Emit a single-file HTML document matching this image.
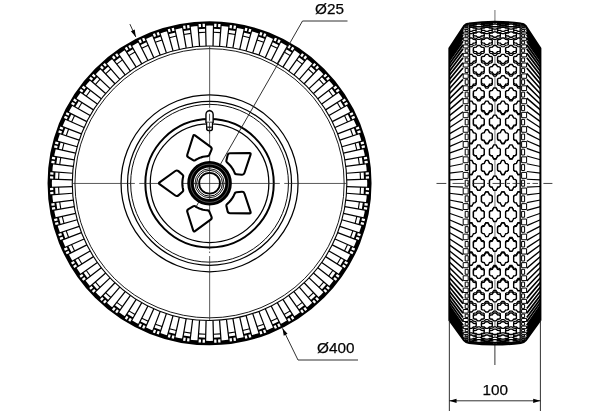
<!DOCTYPE html>
<html><head><meta charset="utf-8"><title>Wheel drawing</title>
<style>
html,body{margin:0;padding:0;background:#fff;}
body{width:600px;height:411px;overflow:hidden;}
svg{display:block;}
text{font-family:"Liberation Sans","DejaVu Sans",sans-serif;font-size:15.3px;fill:#000;stroke:#000;stroke-width:0.25px;}
</style></head><body>
<svg width="600" height="411" viewBox="0 0 600 411">
<rect width="600" height="411" fill="#fff"/>
<circle cx="209.55" cy="183.25" r="159.85" fill="none" stroke="#000" stroke-width="4.3"/>
<path d="M213.02 45.99L213.57 24.3M206.08 45.99L205.53 24.3M199.55 46.31L197.97 24.67M192.64 47L189.97 25.46M186.18 47.95L182.49 26.57M179.37 49.31L174.59 28.14M173.03 50.9L167.26 29.98M166.38 52.91L159.56 32.31M160.23 55.11L152.44 34.86M153.81 57.77L145.01 37.94M147.91 60.56L138.17 41.17M141.78 63.84L131.07 44.97M136.18 67.2L124.59 48.85M130.41 71.06L117.9 53.32M125.16 74.95L111.82 57.83M119.79 79.35L105.6 62.93M114.95 83.74L100 68.01M110.04 88.65L94.31 73.7M105.65 93.49L89.23 79.3M101.25 98.86L84.13 85.52M97.36 104.11L79.62 91.6M93.5 109.88L75.15 98.29M90.14 115.48L71.27 104.77M86.86 121.61L67.47 111.87M84.07 127.51L64.24 118.71M81.41 133.93L61.16 126.14M79.21 140.08L58.61 133.26M77.2 146.73L56.28 140.96M75.61 153.07L54.44 148.29M74.25 159.88L52.87 156.19M73.3 166.34L51.76 163.67M72.61 173.25L50.97 171.67M72.29 179.78L50.6 179.23M72.29 186.72L50.6 187.27M72.61 193.25L50.97 194.83M73.3 200.16L51.76 202.83M74.25 206.62L52.87 210.31M75.61 213.43L54.44 218.21M77.2 219.77L56.28 225.54M79.21 226.42L58.61 233.24M81.41 232.57L61.16 240.36M84.07 238.99L64.24 247.79M86.86 244.89L67.47 254.63M90.14 251.02L71.27 261.73M93.5 256.62L75.15 268.21M97.36 262.39L79.62 274.9M101.25 267.64L84.13 280.98M105.65 273.01L89.23 287.2M110.04 277.85L94.31 292.8M114.95 282.76L100 298.49M119.79 287.15L105.6 303.57M125.16 291.55L111.82 308.67M130.41 295.44L117.9 313.18M136.18 299.3L124.59 317.65M141.78 302.66L131.07 321.53M147.91 305.94L138.17 325.33M153.81 308.73L145.01 328.56M160.23 311.39L152.44 331.64M166.38 313.59L159.56 334.19M173.03 315.6L167.26 336.52M179.37 317.19L174.59 338.36M186.18 318.55L182.49 339.93M192.64 319.5L189.97 341.04M199.55 320.19L197.97 341.83M206.08 320.51L205.53 342.2M213.02 320.51L213.57 342.2M219.55 320.19L221.13 341.83M226.46 319.5L229.13 341.04M232.92 318.55L236.61 339.93M239.73 317.19L244.51 338.36M246.07 315.6L251.84 336.52M252.72 313.59L259.54 334.19M258.87 311.39L266.66 331.64M265.29 308.73L274.09 328.56M271.19 305.94L280.93 325.33M277.32 302.66L288.03 321.53M282.92 299.3L294.51 317.65M288.69 295.44L301.2 313.18M293.94 291.55L307.28 308.67M299.31 287.15L313.5 303.57M304.15 282.76L319.1 298.49M309.06 277.85L324.79 292.8M313.45 273.01L329.87 287.2M317.85 267.64L334.97 280.98M321.74 262.39L339.48 274.9M325.6 256.62L343.95 268.21M328.96 251.02L347.83 261.73M332.24 244.89L351.63 254.63M335.03 238.99L354.86 247.79M337.69 232.57L357.94 240.36M339.89 226.42L360.49 233.24M341.9 219.77L362.82 225.54M343.49 213.43L364.66 218.21M344.85 206.62L366.23 210.31M345.8 200.16L367.34 202.83M346.49 193.25L368.13 194.83M346.81 186.72L368.5 187.27M346.81 179.78L368.5 179.23M346.49 173.25L368.13 171.67M345.8 166.34L367.34 163.67M344.85 159.88L366.23 156.19M343.49 153.07L364.66 148.29M341.9 146.73L362.82 140.96M339.89 140.08L360.49 133.26M337.69 133.93L357.94 126.14M335.03 127.51L354.86 118.71M332.24 121.61L351.63 111.87M328.96 115.48L347.83 104.77M325.6 109.88L343.95 98.29M321.74 104.11L339.48 91.6M317.85 98.86L334.97 85.52M313.45 93.49L329.87 79.3M309.06 88.65L324.79 73.7M304.15 83.74L319.1 68.01M299.31 79.35L313.5 62.93M293.94 74.95L307.28 57.83M288.69 71.06L301.2 53.32M282.92 67.2L294.51 48.85M277.32 63.84L288.03 44.97M271.19 60.56L280.93 41.17M265.29 57.77L274.09 37.94M258.87 55.11L266.66 34.86M252.72 52.91L259.54 32.31M246.07 50.9L251.84 29.98M239.73 49.31L244.51 28.14M232.92 47.95L236.61 26.57M226.46 47L229.13 25.46M219.55 46.31L221.13 24.67" stroke="#000" stroke-width="1.25" fill="none"/>
<path d="M205.64 28.8L205.51 23.8L197.94 24.17L198.3 29.16ZM190.52 29.93L189.9 24.96L182.4 26.08L183.25 31ZM175.58 32.53L174.48 27.65L167.13 29.5L168.46 34.32ZM160.97 36.58L159.4 31.84L152.26 34.39L154.06 39.06ZM146.83 42.05L144.8 37.48L137.95 40.73L140.19 45.19ZM133.29 48.88L130.83 44.53L124.32 48.43L126.99 52.66ZM120.49 57L117.61 52.92L111.52 57.43L114.59 61.38ZM108.55 66.34L105.28 62.55L99.66 67.65L103.1 71.27ZM97.57 76.8L93.95 73.36L88.85 78.98L92.64 82.25ZM87.68 88.29L83.73 85.22L79.22 91.31L83.3 94.19ZM78.96 100.69L74.73 98.02L70.83 104.53L75.18 106.99ZM71.49 113.89L67.03 111.65L63.78 118.5L68.35 120.53ZM65.36 127.76L60.69 125.96L58.14 133.1L62.88 134.67ZM60.62 142.16L55.8 140.83L53.95 148.18L58.83 149.28ZM57.3 156.95L52.38 156.1L51.26 163.6L56.23 164.22ZM55.46 172L50.47 171.64L50.1 179.21L55.1 179.34ZM55.1 187.16L50.1 187.29L50.47 194.86L55.46 194.5ZM56.23 202.28L51.26 202.9L52.38 210.4L57.3 209.55ZM58.83 217.22L53.95 218.32L55.8 225.67L60.62 224.34ZM62.88 231.83L58.14 233.4L60.69 240.54L65.36 238.74ZM68.35 245.97L63.78 248L67.03 254.85L71.49 252.61ZM75.18 259.51L70.83 261.97L74.73 268.48L78.96 265.81ZM83.3 272.31L79.22 275.19L83.73 281.28L87.68 278.21ZM92.64 284.25L88.85 287.52L93.95 293.14L97.57 289.7ZM103.1 295.23L99.66 298.85L105.28 303.95L108.55 300.16ZM114.59 305.12L111.52 309.07L117.61 313.58L120.49 309.5ZM126.99 313.84L124.32 318.07L130.83 321.97L133.29 317.62ZM140.19 321.31L137.95 325.77L144.8 329.02L146.83 324.45ZM154.06 327.44L152.26 332.11L159.4 334.66L160.97 329.92ZM168.46 332.18L167.13 337L174.48 338.85L175.58 333.97ZM183.25 335.5L182.4 340.42L189.9 341.54L190.52 336.57ZM198.3 337.34L197.94 342.33L205.51 342.7L205.64 337.7ZM213.46 337.7L213.59 342.7L221.16 342.33L220.8 337.34ZM228.58 336.57L229.2 341.54L236.7 340.42L235.85 335.5ZM243.52 333.97L244.62 338.85L251.97 337L250.64 332.18ZM258.13 329.92L259.7 334.66L266.84 332.11L265.04 327.44ZM272.27 324.45L274.3 329.02L281.15 325.77L278.91 321.31ZM285.81 317.62L288.27 321.97L294.78 318.07L292.11 313.84ZM298.61 309.5L301.49 313.58L307.58 309.07L304.51 305.12ZM310.55 300.16L313.82 303.95L319.44 298.85L316 295.23ZM321.53 289.7L325.15 293.14L330.25 287.52L326.46 284.25ZM331.42 278.21L335.37 281.28L339.88 275.19L335.8 272.31ZM340.14 265.81L344.37 268.48L348.27 261.97L343.92 259.51ZM347.61 252.61L352.07 254.85L355.32 248L350.75 245.97ZM353.74 238.74L358.41 240.54L360.96 233.4L356.22 231.83ZM358.48 224.34L363.3 225.67L365.15 218.32L360.27 217.22ZM361.8 209.55L366.72 210.4L367.84 202.9L362.87 202.28ZM363.64 194.5L368.63 194.86L369 187.29L364 187.16ZM364 179.34L369 179.21L368.63 171.64L363.64 172ZM362.87 164.22L367.84 163.6L366.72 156.1L361.8 156.95ZM360.27 149.28L365.15 148.18L363.3 140.83L358.48 142.16ZM356.22 134.67L360.96 133.1L358.41 125.96L353.74 127.76ZM350.75 120.53L355.32 118.5L352.07 111.65L347.61 113.89ZM343.92 106.99L348.27 104.53L344.37 98.02L340.14 100.69ZM335.8 94.19L339.88 91.31L335.37 85.22L331.42 88.29ZM326.46 82.25L330.25 78.98L325.15 73.36L321.53 76.8ZM316 71.27L319.44 67.65L313.82 62.55L310.55 66.34ZM304.51 61.38L307.58 57.43L301.49 52.92L298.61 57ZM292.11 52.66L294.78 48.43L288.27 44.53L285.81 48.88ZM278.91 45.19L281.15 40.73L274.3 37.48L272.27 42.05ZM265.04 39.06L266.84 34.39L259.7 31.84L258.13 36.58ZM250.64 34.32L251.97 29.5L244.62 27.65L243.52 32.53ZM235.85 31L236.7 26.08L229.2 24.96L228.58 29.93ZM220.8 29.16L221.16 24.17L213.59 23.8L213.46 28.8Z" fill="#000"/>
<path d="M204.99 26.92L204.89 23.72L202.55 23.8L202.69 27ZM201.06 27.08L200.88 23.89L198.55 24.03L198.77 27.22ZM189.68 28.12L189.28 24.94L186.96 25.26L187.41 28.42ZM185.79 28.67L185.31 25.5L183 25.87L183.53 29.03ZM174.57 30.81L173.86 27.69L171.58 28.23L172.34 31.34ZM170.75 31.74L169.96 28.64L167.7 29.24L168.54 32.32ZM159.8 34.97L158.78 31.94L156.57 32.7L157.63 35.72ZM156.09 36.27L155 33.26L152.8 34.08L153.94 37.07ZM145.51 40.56L144.2 37.64L142.07 38.62L143.42 41.52ZM141.94 42.22L140.56 39.33L138.46 40.36L139.88 43.22ZM131.83 47.53L130.24 44.75L128.22 45.93L129.85 48.68ZM128.44 49.52L126.78 46.79L124.79 48.02L126.49 50.73ZM118.9 55.8L117.05 53.19L115.15 54.56L117.04 57.14ZM115.73 58.12L113.81 55.56L111.94 56.97L113.9 59.51ZM106.84 65.3L104.74 62.89L102.99 64.43L105.13 66.82ZM103.91 67.92L101.75 65.56L100.04 67.15L102.23 69.48ZM95.78 75.93L93.45 73.74L91.86 75.45L94.22 77.61ZM93.12 78.83L90.73 76.69L89.19 78.44L91.6 80.54ZM85.81 87.6L83.27 85.64L81.86 87.51L84.42 89.43ZM83.44 90.74L80.86 88.85L79.49 90.75L82.1 92.6ZM77.03 100.19L74.32 98.49L73.09 100.48L75.82 102.14ZM74.98 103.55L72.23 101.92L71.05 103.94L73.83 105.53ZM69.52 113.58L66.66 112.16L65.63 114.26L68.52 115.64ZM67.82 117.12L64.92 115.77L63.94 117.9L66.86 119.21ZM63.37 127.64L60.38 126.5L59.56 128.7L62.57 129.79ZM62.02 131.33L59 130.27L58.24 132.48L61.27 133.5ZM58.62 142.24L55.54 141.4L54.94 143.66L58.04 144.45ZM57.64 146.04L54.53 145.28L53.99 147.56L57.11 148.27ZM55.33 157.23L52.17 156.7L51.8 159.01L54.97 159.49ZM54.72 161.11L51.56 160.66L51.24 162.98L54.42 163.38ZM53.52 172.47L50.33 172.25L50.19 174.58L53.38 174.76ZM53.3 176.39L50.1 176.25L50.02 178.59L53.22 178.69ZM53.22 187.81L50.02 187.91L50.1 190.25L53.3 190.11ZM53.38 191.74L50.19 191.92L50.33 194.25L53.52 194.03ZM54.42 203.12L51.24 203.52L51.56 205.84L54.72 205.39ZM54.97 207.01L51.8 207.49L52.17 209.8L55.33 209.27ZM57.11 218.23L53.99 218.94L54.53 221.22L57.64 220.46ZM58.04 222.05L54.94 222.84L55.54 225.1L58.62 224.26ZM61.27 233L58.24 234.02L59 236.23L62.02 235.17ZM62.57 236.71L59.56 237.8L60.38 240L63.37 238.86ZM66.86 247.29L63.94 248.6L64.92 250.73L67.82 249.38ZM68.52 250.86L65.63 252.24L66.66 254.34L69.52 252.92ZM73.83 260.97L71.05 262.56L72.23 264.58L74.98 262.95ZM75.82 264.36L73.09 266.02L74.32 268.01L77.03 266.31ZM82.1 273.9L79.49 275.75L80.86 277.65L83.44 275.76ZM84.42 277.07L81.86 278.99L83.27 280.86L85.81 278.9ZM91.6 285.96L89.19 288.06L90.73 289.81L93.12 287.67ZM94.22 288.89L91.86 291.05L93.45 292.76L95.78 290.57ZM102.23 297.02L100.04 299.35L101.75 300.94L103.91 298.58ZM105.13 299.68L102.99 302.07L104.74 303.61L106.84 301.2ZM113.9 306.99L111.94 309.53L113.81 310.94L115.73 308.38ZM117.04 309.36L115.15 311.94L117.05 313.31L118.9 310.7ZM126.49 315.77L124.79 318.48L126.78 319.71L128.44 316.98ZM129.85 317.82L128.22 320.57L130.24 321.75L131.83 318.97ZM139.88 323.28L138.46 326.14L140.56 327.17L141.94 324.28ZM143.42 324.98L142.07 327.88L144.2 328.86L145.51 325.94ZM153.94 329.43L152.8 332.42L155 333.24L156.09 330.23ZM157.63 330.78L156.57 333.8L158.78 334.56L159.8 331.53ZM168.54 334.18L167.7 337.26L169.96 337.86L170.75 334.76ZM172.34 335.16L171.58 338.27L173.86 338.81L174.57 335.69ZM183.53 337.47L183 340.63L185.31 341L185.79 337.83ZM187.41 338.08L186.96 341.24L189.28 341.56L189.68 338.38ZM198.77 339.28L198.55 342.47L200.88 342.61L201.06 339.42ZM202.69 339.5L202.55 342.7L204.89 342.78L204.99 339.58ZM214.11 339.58L214.21 342.78L216.55 342.7L216.41 339.5ZM218.04 339.42L218.22 342.61L220.55 342.47L220.33 339.28ZM229.42 338.38L229.82 341.56L232.14 341.24L231.69 338.08ZM233.31 337.83L233.79 341L236.1 340.63L235.57 337.47ZM244.53 335.69L245.24 338.81L247.52 338.27L246.76 335.16ZM248.35 334.76L249.14 337.86L251.4 337.26L250.56 334.18ZM259.3 331.53L260.32 334.56L262.53 333.8L261.47 330.78ZM263.01 330.23L264.1 333.24L266.3 332.42L265.16 329.43ZM273.59 325.94L274.9 328.86L277.03 327.88L275.68 324.98ZM277.16 324.28L278.54 327.17L280.64 326.14L279.22 323.28ZM287.27 318.97L288.86 321.75L290.88 320.57L289.25 317.82ZM290.66 316.98L292.32 319.71L294.31 318.48L292.61 315.77ZM300.2 310.7L302.05 313.31L303.95 311.94L302.06 309.36ZM303.37 308.38L305.29 310.94L307.16 309.53L305.2 306.99ZM312.26 301.2L314.36 303.61L316.11 302.07L313.97 299.68ZM315.19 298.58L317.35 300.94L319.06 299.35L316.87 297.02ZM323.32 290.57L325.65 292.76L327.24 291.05L324.88 288.89ZM325.98 287.67L328.37 289.81L329.91 288.06L327.5 285.96ZM333.29 278.9L335.83 280.86L337.24 278.99L334.68 277.07ZM335.66 275.76L338.24 277.65L339.61 275.75L337 273.9ZM342.07 266.31L344.78 268.01L346.01 266.02L343.28 264.36ZM344.12 262.95L346.87 264.58L348.05 262.56L345.27 260.97ZM349.58 252.92L352.44 254.34L353.47 252.24L350.58 250.86ZM351.28 249.38L354.18 250.73L355.16 248.6L352.24 247.29ZM355.73 238.86L358.72 240L359.54 237.8L356.53 236.71ZM357.08 235.17L360.1 236.23L360.86 234.02L357.83 233ZM360.48 224.26L363.56 225.1L364.16 222.84L361.06 222.05ZM361.46 220.46L364.57 221.22L365.11 218.94L361.99 218.23ZM363.77 209.27L366.93 209.8L367.3 207.49L364.13 207.01ZM364.38 205.39L367.54 205.84L367.86 203.52L364.68 203.12ZM365.58 194.03L368.77 194.25L368.91 191.92L365.72 191.74ZM365.8 190.11L369 190.25L369.08 187.91L365.88 187.81ZM365.88 178.69L369.08 178.59L369 176.25L365.8 176.39ZM365.72 174.76L368.91 174.58L368.77 172.25L365.58 172.47ZM364.68 163.38L367.86 162.98L367.54 160.66L364.38 161.11ZM364.13 159.49L367.3 159.01L366.93 156.7L363.77 157.23ZM361.99 148.27L365.11 147.56L364.57 145.28L361.46 146.04ZM361.06 144.45L364.16 143.66L363.56 141.4L360.48 142.24ZM357.83 133.5L360.86 132.48L360.1 130.27L357.08 131.33ZM356.53 129.79L359.54 128.7L358.72 126.5L355.73 127.64ZM352.24 119.21L355.16 117.9L354.18 115.77L351.28 117.12ZM350.58 115.64L353.47 114.26L352.44 112.16L349.58 113.58ZM345.27 105.53L348.05 103.94L346.87 101.92L344.12 103.55ZM343.28 102.14L346.01 100.48L344.78 98.49L342.07 100.19ZM337 92.6L339.61 90.75L338.24 88.85L335.66 90.74ZM334.68 89.43L337.24 87.51L335.83 85.64L333.29 87.6ZM327.5 80.54L329.91 78.44L328.37 76.69L325.98 78.83ZM324.88 77.61L327.24 75.45L325.65 73.74L323.32 75.93ZM316.87 69.48L319.06 67.15L317.35 65.56L315.19 67.92ZM313.97 66.82L316.11 64.43L314.36 62.89L312.26 65.3ZM305.2 59.51L307.16 56.97L305.29 55.56L303.37 58.12ZM302.06 57.14L303.95 54.56L302.05 53.19L300.2 55.8ZM292.61 50.73L294.31 48.02L292.32 46.79L290.66 49.52ZM289.25 48.68L290.88 45.93L288.86 44.75L287.27 47.53ZM279.22 43.22L280.64 40.36L278.54 39.33L277.16 42.22ZM275.68 41.52L277.03 38.62L274.9 37.64L273.59 40.56ZM265.16 37.07L266.3 34.08L264.1 33.26L263.01 36.27ZM261.47 35.72L262.53 32.7L260.32 31.94L259.3 34.97ZM250.56 32.32L251.4 29.24L249.14 28.64L248.35 31.74ZM246.76 31.34L247.52 28.23L245.24 27.69L244.53 30.81ZM235.57 29.03L236.1 25.87L233.79 25.5L233.31 28.67ZM231.69 28.42L232.14 25.26L229.82 24.94L229.42 28.12ZM220.33 27.22L220.55 24.03L218.22 23.89L218.04 27.08ZM216.41 27L216.55 23.8L214.21 23.72L214.11 26.92Z" fill="#fff"/>
<path d="M205.73 32.3L198.56 32.65M190.95 33.4L183.85 34.45M176.35 35.94L169.39 37.69M162.07 39.91L155.31 42.33M148.25 45.25L141.76 48.32M135.02 51.92L128.86 55.62M122.51 59.86L116.74 64.14M110.83 68.99L105.51 73.81M100.11 79.21L95.29 84.53M90.44 90.44L86.16 96.21M81.92 102.56L78.22 108.72M74.62 115.46L71.55 121.95M68.63 129.01L66.21 135.77M63.99 143.09L62.24 150.05M60.75 157.55L59.7 164.65M58.95 172.26L58.6 179.43M58.6 187.07L58.95 194.24M59.7 201.85L60.75 208.95M62.24 216.45L63.99 223.41M66.21 230.73L68.63 237.49M71.55 244.55L74.62 251.04M78.22 257.78L81.92 263.94M86.16 270.29L90.44 276.06M95.29 281.97L100.11 287.29M105.51 292.69L110.83 297.51M116.74 302.36L122.51 306.64M128.86 310.88L135.02 314.58M141.76 318.18L148.25 321.25M155.31 324.17L162.07 326.59M169.39 328.81L176.35 330.56M183.85 332.05L190.95 333.1M198.56 333.85L205.73 334.2M213.37 334.2L220.54 333.85M228.15 333.1L235.25 332.05M242.75 330.56L249.71 328.81M257.03 326.59L263.79 324.17M270.85 321.25L277.34 318.18M284.08 314.58L290.24 310.88M296.59 306.64L302.36 302.36M308.27 297.51L313.59 292.69M318.99 287.29L323.81 281.97M328.66 276.06L332.94 270.29M337.18 263.94L340.88 257.78M344.48 251.04L347.55 244.55M350.47 237.49L352.89 230.73M355.11 223.41L356.86 216.45M358.35 208.95L359.4 201.85M360.15 194.24L360.5 187.07M360.5 179.43L360.15 172.26M359.4 164.65L358.35 157.55M356.86 150.05L355.11 143.09M352.89 135.77L350.47 129.01M347.55 121.95L344.48 115.46M340.88 108.72L337.18 102.56M332.94 96.21L328.66 90.44M323.81 84.53L318.99 79.21M313.59 73.81L308.27 68.99M302.36 64.14L296.59 59.86M290.24 55.62L284.08 51.92M277.34 48.32L270.85 45.25M263.79 42.33L257.03 39.91M249.71 37.69L242.75 35.94M235.25 34.45L228.15 33.4M220.54 32.65L213.37 32.3" stroke="#000" stroke-width="1.1" fill="none"/>
<circle cx="209.55" cy="183.25" r="137.3" fill="none" stroke="#000" stroke-width="1.1"/>
<circle cx="209.55" cy="183.25" r="134.6" fill="none" stroke="#000" stroke-width="0.9"/>
<circle cx="209.55" cy="183.25" r="88.5" fill="none" stroke="#000" stroke-width="1.25"/>
<circle cx="209.55" cy="183.25" r="82" fill="none" stroke="#000" stroke-width="1.25"/>
<circle cx="209.55" cy="183.25" r="78.9" fill="none" stroke="#000" stroke-width="0.95"/>
<circle cx="209.55" cy="183.25" r="64.2" fill="none" stroke="#000" stroke-width="2"/>
<circle cx="209.55" cy="183.25" r="59.3" fill="none" stroke="#000" stroke-width="1.25"/>
<line x1="72.55" y1="183.45" x2="346.55" y2="183.45" stroke="#222" stroke-width="0.75" stroke-dasharray="62.3 4.4 140.6 4.4 62.3"/>
<line x1="209.65" y1="46.25" x2="209.65" y2="320.25" stroke="#222" stroke-width="0.75" stroke-dasharray="61.5 1.8 140 2 1.5 3 80"/>
<path d="M159.55 182.32Q158.25 183.25 159.55 184.18L175.32 195.49Q176.95 196.65 178.46 195.34L182.54 191.79Q183.45 191 183.22 190.04L182.98 189.08L182.63 187.15L182.42 185.21L182.35 183.25L182.42 181.29L182.63 179.35L182.98 177.42L183.22 176.46Q183.45 175.5 182.54 174.71L178.46 171.16Q176.95 169.85 175.32 171.01Z" fill="#fff" stroke="#000" stroke-width="2.1" stroke-linejoin="round"/>
<path d="M194.99 135.41Q193.7 134.46 193.21 135.99L187.34 154.48Q186.73 156.39 188.45 157.42L193.09 160.2Q194.11 160.82 194.96 160.3L195.8 159.78L197.52 158.86L199.31 158.05L201.14 157.38L203.03 156.84L204.94 156.44L206.88 156.18L207.87 156.11Q208.86 156.03 209.32 154.93L211.44 149.95Q212.22 148.1 210.61 146.92Z" fill="#fff" stroke="#000" stroke-width="2.1" stroke-linejoin="round"/>
<path d="M250.55 154.62Q251.05 153.1 249.45 153.11L230.05 153.23Q228.05 153.25 227.6 155.2L226.38 160.47Q226.11 161.64 226.86 162.28L227.62 162.92L229.03 164.27L230.35 165.72L231.56 167.26L232.65 168.89L233.62 170.59L234.47 172.35L234.85 173.26Q235.22 174.18 236.42 174.28L241.81 174.75Q243.8 174.93 244.43 173.03Z" fill="#fff" stroke="#000" stroke-width="2.1" stroke-linejoin="round"/>
<path d="M249.45 213.39Q251.05 213.4 250.55 211.88L244.43 193.47Q243.8 191.57 241.81 191.75L236.42 192.22Q235.22 192.32 234.85 193.24L234.47 194.15L233.62 195.91L232.65 197.61L231.56 199.24L230.35 200.78L229.03 202.23L227.62 203.58L226.86 204.22Q226.11 204.86 226.38 206.03L227.6 211.3Q228.05 213.25 230.05 213.27Z" fill="#fff" stroke="#000" stroke-width="2.1" stroke-linejoin="round"/>
<path d="M193.21 230.51Q193.7 232.04 194.99 231.09L210.61 219.58Q212.22 218.4 211.44 216.55L209.32 211.57Q208.86 210.47 207.87 210.39L206.88 210.32L204.94 210.06L203.03 209.66L201.14 209.12L199.31 208.45L197.52 207.64L195.8 206.72L194.96 206.2Q194.11 205.68 193.09 206.3L188.45 209.08Q186.73 210.11 187.34 212.02Z" fill="#fff" stroke="#000" stroke-width="2.1" stroke-linejoin="round"/>
<circle cx="209.55" cy="183.25" r="19.05" fill="none" stroke="#000" stroke-width="6.5"/>
<circle cx="209.55" cy="183.25" r="19.1" fill="none" stroke="#000" stroke-width="0.5" style="stroke:#aaa"/>
<circle cx="209.55" cy="183.25" r="14.5" fill="none" stroke="#000" stroke-width="0.9"/>
<circle cx="209.55" cy="183.25" r="12.9" fill="none" stroke="#000" stroke-width="1"/>
<circle cx="209.55" cy="183.25" r="10.4" fill="none" stroke="#000" stroke-width="1.85"/>
<path d="M205.95 122.4V114.4a3.6 3.6 0 0 1 7.2 0V122.4Z" fill="#fff" stroke="#000" stroke-width="1.4"/>
<path d="M206.65 122.4V129q0 1.7 2.9 1.7q2.9 0 2.9-1.7V122.4" fill="#fff" stroke="#000" stroke-width="1.2"/>
<line x1="206.65" y1="127" x2="212.45" y2="127" stroke="#000" stroke-width="0.9"/>
<ellipse cx="209.55" cy="129" rx="2.9" ry="1.6" fill="none" stroke="#000" stroke-width="0.7"/>
<line x1="209.55" y1="113.8" x2="209.55" y2="120.8" stroke="#222" stroke-width="0.8"/>
<line x1="209.55" y1="122.6" x2="209.55" y2="133.5" stroke="#222" stroke-width="0.8"/>
<line x1="302.5" y1="21" x2="347.5" y2="21" stroke="#1a1a1a" stroke-width="0.9"/>
<line x1="302.5" y1="21" x2="220.24" y2="164.59" stroke="#1a1a1a" stroke-width="0.9"/>
<line x1="198.86" y1="201.91" x2="195.88" y2="207.11" stroke="#1a1a1a" stroke-width="0.9"/>
<line x1="298" y1="360" x2="358" y2="360" stroke="#1a1a1a" stroke-width="0.9"/>
<line x1="298" y1="360" x2="282.47" y2="328.24" stroke="#1a1a1a" stroke-width="0.9"/>
<path d="M282.47 328.24L283.75 335.63L287.52 333.79Z" fill="#000"/>
<line x1="129.9" y1="24.1" x2="135.8" y2="37" stroke="#1a1a1a" stroke-width="0.9"/>
<path d="M135.8 37L134.72 29.58L130.9 31.33Z" fill="#000"/>
<clipPath id="tc"><rect x="469.6" y="0" width="50.6" height="411"/></clipPath>
<clipPath id="sc"><path d="M449.35 48.2L464 26Q466 23.6 469 23.4Q494.9 20.2 520.8 23.4Q523.8 23.6 525.8 26L540.4 48.2L540.4 320.2L525.8 340.4Q523.8 342.8 520.8 343Q494.9 346.2 469 343Q466 342.8 464 340.4L449.35 320.2Z"/></clipPath>
<line x1="494.9" y1="10" x2="494.9" y2="23" stroke="#999" stroke-width="1.4"/>
<line x1="494.9" y1="343" x2="494.9" y2="365" stroke="#333" stroke-width="1"/>
<g clip-path="url(#sc)"><line x1="494.9" y1="10" x2="494.9" y2="365" stroke="#999" stroke-width="1.4"/><path d="M449.35 320.16L463 342.15M540.4 320.16L526.8 342.15M449.35 319.83L463 341.77M540.4 319.83L526.8 341.77M449.35 319.17L463 341M540.4 319.17L526.8 341M449.35 318.18L463 339.86M540.4 318.18L526.8 339.86M449.35 316.87L463 338.34M540.4 316.87L526.8 338.34M449.35 315.24L463 336.44M540.4 315.24L526.8 336.44M449.35 51.16L463 29.96M540.4 51.16L526.8 29.96M449.35 49.53L463 28.06M540.4 49.53L526.8 28.06M449.35 48.22L463 26.54M540.4 48.22L526.8 26.54M449.35 47.23L463 25.4M540.4 47.23L526.8 25.4M449.35 46.57L463 24.63M540.4 46.57L526.8 24.63M449.35 46.24L463 24.25M540.4 46.24L526.8 24.25" stroke="#000" stroke-width="2.0" fill="none"/><path d="M449.35 313.29L463 334.17M540.4 313.29L526.8 334.17M449.35 311.02L463 331.55M540.4 311.02L526.8 331.55M449.35 308.45L463 328.56M540.4 308.45L526.8 328.56M449.35 305.57L463 325.22M540.4 305.57L526.8 325.22M449.35 60.83L463 41.18M540.4 60.83L526.8 41.18M449.35 57.95L463 37.84M540.4 57.95L526.8 37.84M449.35 55.38L463 34.85M540.4 55.38L526.8 34.85M449.35 53.11L463 32.23M540.4 53.11L526.8 32.23" stroke="#000" stroke-width="1.9" fill="none"/><path d="M449.35 302.4L463 321.54M540.4 302.4L526.8 321.54M449.35 298.94L463 317.53M540.4 298.94L526.8 317.53M449.35 295.21L463 313.2M540.4 295.21L526.8 313.2M449.35 71.19L463 53.2M540.4 71.19L526.8 53.2M449.35 67.46L463 48.87M540.4 67.46L526.8 48.87M449.35 64L463 44.86M540.4 64L526.8 44.86" stroke="#000" stroke-width="1.8" fill="none"/><path d="M449.35 291.2L463 308.55M540.4 291.2L526.8 308.55M449.35 286.94L463 303.6M540.4 286.94L526.8 303.6M449.35 282.42L463 298.36M540.4 282.42L526.8 298.36M449.35 83.98L463 68.04M540.4 83.98L526.8 68.04M449.35 79.46L463 62.8M540.4 79.46L526.8 62.8M449.35 75.2L463 57.85M540.4 75.2L526.8 57.85" stroke="#000" stroke-width="1.7" fill="none"/><path d="M449.35 277.67L463 292.84M540.4 277.67L526.8 292.84M449.35 272.68L463 287.05M540.4 272.68L526.8 287.05M449.35 93.72L463 79.35M540.4 93.72L526.8 79.35M449.35 88.73L463 73.56M540.4 88.73L526.8 73.56" stroke="#000" stroke-width="1.6" fill="none"/><path d="M449.35 267.49L463 281.02M540.4 267.49L526.8 281.02M449.35 262.09L463 274.75M540.4 262.09L526.8 274.75M449.35 256.49L463 268.26M540.4 256.49L526.8 268.26M449.35 109.91L463 98.14M540.4 109.91L526.8 98.14M449.35 104.31L463 91.65M540.4 104.31L526.8 91.65M449.35 98.91L463 85.38M540.4 98.91L526.8 85.38" stroke="#000" stroke-width="1.5" fill="none"/><path d="M449.35 250.73L463 261.57M540.4 250.73L526.8 261.57M449.35 244.8L463 254.69M540.4 244.8L526.8 254.69M449.35 121.6L463 111.71M540.4 121.6L526.8 111.71M449.35 115.67L463 104.83M540.4 115.67L526.8 104.83" stroke="#000" stroke-width="1.4" fill="none"/><path d="M449.35 238.72L463 247.63M540.4 238.72L526.8 247.63M449.35 232.51L463 240.42M540.4 232.51L526.8 240.42M449.35 226.17L463 233.08M540.4 226.17L526.8 233.08M449.35 140.23L463 133.32M540.4 140.23L526.8 133.32M449.35 133.89L463 125.98M540.4 133.89L526.8 125.98M449.35 127.68L463 118.77M540.4 127.68L526.8 118.77" stroke="#000" stroke-width="1.3" fill="none"/><path d="M449.35 219.74L463 225.61M540.4 219.74L526.8 225.61M449.35 213.22L463 218.04M540.4 213.22L526.8 218.04M449.35 206.62L463 210.38M540.4 206.62L526.8 210.38M449.35 159.78L463 156.02M540.4 159.78L526.8 156.02M449.35 153.18L463 148.36M540.4 153.18L526.8 148.36M449.35 146.66L463 140.79M540.4 146.66L526.8 140.79" stroke="#000" stroke-width="1.2" fill="none"/><path d="M449.35 199.97L463 202.66M540.4 199.97L526.8 202.66M449.35 193.28L463 194.9M540.4 193.28L526.8 194.9M449.35 186.56L463 187.1M540.4 186.56L526.8 187.1M449.35 179.84L463 179.3M540.4 179.84L526.8 179.3M449.35 173.12L463 171.5M540.4 173.12L526.8 171.5M449.35 166.43L463 163.74M540.4 166.43L526.8 163.74" stroke="#000" stroke-width="1.1" fill="none"/><path d="M463.2 342.63H468.2V342.33H463.2ZM521.6 342.63H526.6V342.33H521.6ZM465.2 342.2H468.2V341.61H465.2ZM521.6 342.2H524.6V341.61H521.6ZM463.2 341.38H468.2V340.51H463.2ZM521.6 341.38H526.6V340.51H521.6ZM465.2 340.19H468.2V339.03H465.2ZM521.6 340.19H524.6V339.03H521.6ZM463.2 338.62H468.2V337.17H463.2ZM521.6 338.62H526.6V337.17H521.6ZM465.2 336.67H468.2V334.94H465.2ZM521.6 336.67H524.6V334.94H521.6ZM463.2 334.35H468.2V332.35H463.2ZM521.6 334.35H526.6V332.35H521.6ZM465.2 331.67H468.2V329.39H465.2ZM521.6 331.67H524.6V329.39H521.6ZM463.2 328.63H468.2V326.09H463.2ZM521.6 328.63H526.6V326.09H521.6ZM465.2 325.24H468.2V322.44H465.2ZM521.6 325.24H524.6V322.44H521.6ZM463.2 321.51H468.2V318.45H463.2ZM521.6 321.51H526.6V318.45H521.6ZM465.2 317.45H468.2V314.14H465.2ZM521.6 317.45H524.6V314.14H521.6ZM463.2 313.06H468.2V309.52H463.2ZM521.6 313.06H526.6V309.52H521.6ZM465.2 308.36H468.2V304.59H465.2ZM521.6 308.36H524.6V304.59H521.6ZM463.2 303.36H468.2V299.36H463.2ZM521.6 303.36H526.6V299.36H521.6ZM465.2 298.07H468.2V293.86H465.2ZM521.6 298.07H524.6V293.86H521.6ZM463.2 292.5H468.2V288.09H463.2ZM521.6 292.5H526.6V288.09H521.6ZM465.2 286.67H468.2V282.07H465.2ZM521.6 286.67H524.6V282.07H521.6ZM463.2 280.59H468.2V275.81H463.2ZM521.6 280.59H526.6V275.81H521.6ZM465.2 274.27H468.2V269.32H465.2ZM521.6 274.27H524.6V269.32H521.6ZM463.2 267.74H468.2V262.63H463.2ZM521.6 267.74H526.6V262.63H521.6ZM465.2 261H468.2V255.75H465.2ZM521.6 261H524.6V255.75H521.6ZM463.2 254.07H468.2V248.69H463.2ZM521.6 254.07H526.6V248.69H521.6ZM465.2 246.98H468.2V241.48H465.2ZM521.6 246.98H524.6V241.48H521.6ZM463.2 239.73H468.2V234.12H463.2ZM521.6 239.73H526.6V234.12H521.6ZM465.2 232.34H468.2V226.65H465.2ZM521.6 232.34H524.6V226.65H521.6ZM463.2 224.83H468.2V219.06H463.2ZM521.6 224.83H526.6V219.06H521.6ZM465.2 217.23H468.2V211.39H465.2ZM521.6 217.23H524.6V211.39H521.6ZM463.2 209.54H468.2V203.66H463.2ZM521.6 209.54H526.6V203.66H521.6ZM465.2 201.79H468.2V195.87H465.2ZM521.6 201.79H524.6V195.87H521.6ZM463.2 194H468.2V188.05H463.2ZM521.6 194H526.6V188.05H521.6ZM465.2 186.18H468.2V180.22H465.2ZM521.6 186.18H524.6V180.22H521.6ZM463.2 178.35H468.2V172.4H463.2ZM521.6 178.35H526.6V172.4H521.6ZM465.2 170.53H468.2V164.61H465.2ZM521.6 170.53H524.6V164.61H521.6ZM463.2 162.74H468.2V156.86H463.2ZM521.6 162.74H526.6V156.86H521.6ZM465.2 155.01H468.2V149.17H465.2ZM521.6 155.01H524.6V149.17H521.6ZM463.2 147.34H468.2V141.57H463.2ZM521.6 147.34H526.6V141.57H521.6ZM465.2 139.75H468.2V134.06H465.2ZM521.6 139.75H524.6V134.06H521.6ZM463.2 132.28H468.2V126.67H463.2ZM521.6 132.28H526.6V126.67H521.6ZM465.2 124.92H468.2V119.42H465.2ZM521.6 124.92H524.6V119.42H521.6ZM463.2 117.71H468.2V112.33H463.2ZM521.6 117.71H526.6V112.33H521.6ZM465.2 110.65H468.2V105.4H465.2ZM521.6 110.65H524.6V105.4H521.6ZM463.2 103.77H468.2V98.66H463.2ZM521.6 103.77H526.6V98.66H521.6ZM465.2 97.08H468.2V92.13H465.2ZM521.6 97.08H524.6V92.13H521.6ZM463.2 90.59H468.2V85.81H463.2ZM521.6 90.59H526.6V85.81H521.6ZM465.2 84.33H468.2V79.73H465.2ZM521.6 84.33H524.6V79.73H521.6ZM463.2 78.31H468.2V73.9H463.2ZM521.6 78.31H526.6V73.9H521.6ZM465.2 72.54H468.2V68.33H465.2ZM521.6 72.54H524.6V68.33H521.6ZM463.2 67.04H468.2V63.04H463.2ZM521.6 67.04H526.6V63.04H521.6ZM465.2 61.81H468.2V58.04H465.2ZM521.6 61.81H524.6V58.04H521.6ZM463.2 56.88H468.2V53.34H463.2ZM521.6 56.88H526.6V53.34H521.6ZM465.2 52.26H468.2V48.95H465.2ZM521.6 52.26H524.6V48.95H521.6ZM463.2 47.95H468.2V44.89H463.2ZM521.6 47.95H526.6V44.89H521.6ZM465.2 43.96H468.2V41.16H465.2ZM521.6 43.96H524.6V41.16H521.6ZM463.2 40.31H468.2V37.77H463.2ZM521.6 40.31H526.6V37.77H521.6ZM465.2 37.01H468.2V34.73H465.2ZM521.6 37.01H524.6V34.73H521.6ZM463.2 34.05H468.2V32.05H463.2ZM521.6 34.05H526.6V32.05H521.6ZM465.2 31.46H468.2V29.73H465.2ZM521.6 31.46H524.6V29.73H521.6ZM463.2 29.23H468.2V27.78H463.2ZM521.6 29.23H526.6V27.78H521.6ZM465.2 27.37H468.2V26.21H465.2ZM521.6 27.37H524.6V26.21H521.6ZM463.2 25.89H468.2V25.02H463.2ZM521.6 25.89H526.6V25.02H521.6ZM465.2 24.79H468.2V24.2H465.2ZM521.6 24.79H524.6V24.2H521.6ZM463.2 24.07H468.2V23.77H463.2ZM521.6 24.07H526.6V23.77H521.6ZM465.2 23.73H468.2V23.7H465.2ZM521.6 23.73H524.6V23.7H521.6Z" stroke="#000" stroke-width="1.0" fill="none"/><g clip-path="url(#tc)"><path d="M496 341.65L497.2 341.73L497.5 341.75L499.3 341.76L500.3 341.78L500.3 341.8L499.3 341.8L497.5 341.8L497.2 341.8L496 341.8L493.8 341.8L492.6 341.8L492.3 341.8L490.5 341.8L489.5 341.8L489.5 341.78L490.5 341.76L492.3 341.75L492.6 341.73L493.8 341.65ZM479.9 341.65L481.1 341.73L481.4 341.75L483.2 341.76L484.2 341.78L484.2 341.8L483.2 341.8L481.4 341.8L481.1 341.8L479.9 341.8L477.7 341.8L476.5 341.8L476.2 341.8L474.4 341.8L473.4 341.8L473.4 341.78L474.4 341.76L476.2 341.75L476.5 341.73L477.7 341.65ZM512.1 341.65L513.3 341.73L513.6 341.75L515.4 341.76L516.4 341.78L516.4 341.8L515.4 341.8L513.6 341.8L513.3 341.8L512.1 341.8L509.9 341.8L508.7 341.8L508.4 341.8L506.6 341.8L505.6 341.8L505.6 341.78L506.6 341.76L508.4 341.75L508.7 341.73L509.9 341.65ZM487.95 340.2L489.15 340.5L489.45 340.6L491.25 340.65L492.25 340.76L492.25 341.27L491.25 341.34L489.45 341.37L489.15 341.43L487.95 341.57L485.75 341.57L484.55 341.43L484.25 341.37L482.45 341.34L481.45 341.27L481.45 340.76L482.45 340.65L484.25 340.6L484.55 340.5L485.75 340.2ZM504.05 340.2L505.25 340.5L505.55 340.6L507.35 340.65L508.35 340.76L508.35 341.27L507.35 341.34L505.55 341.37L505.25 341.43L504.05 341.57L501.85 341.57L500.65 341.43L500.35 341.37L498.55 341.34L497.55 341.27L497.55 340.76L498.55 340.65L500.35 340.6L500.65 340.5L501.85 340.2ZM471.85 340.2L473.05 340.5L473.35 340.6L475.15 340.65L476.15 340.76L476.15 341.27L475.15 341.34L473.35 341.37L473.05 341.43L471.85 341.57L469.65 341.57L468.45 341.43L468.15 341.37L466.35 341.34L465.35 341.27L465.35 340.76L466.35 340.65L468.15 340.6L468.45 340.5L469.65 340.2ZM520.15 340.2L521.35 340.5L521.65 340.6L523.45 340.65L524.45 340.76L524.45 341.27L523.45 341.34L521.65 341.37L521.35 341.43L520.15 341.57L517.95 341.57L516.75 341.43L516.45 341.37L514.65 341.34L513.65 341.27L513.65 340.76L514.65 340.65L516.45 340.6L516.75 340.5L517.95 340.2ZM496 337.25L497.2 337.76L497.5 337.94L499.3 338.02L500.3 338.23L500.3 339.23L499.3 339.41L497.5 339.47L497.2 339.61L496 339.96L493.8 339.96L492.6 339.61L492.3 339.47L490.5 339.41L489.5 339.23L489.5 338.23L490.5 338.02L492.3 337.94L492.6 337.76L493.8 337.25ZM479.9 337.25L481.1 337.76L481.4 337.94L483.2 338.02L484.2 338.23L484.2 339.23L483.2 339.41L481.4 339.47L481.1 339.61L479.9 339.96L477.7 339.96L476.5 339.61L476.2 339.47L474.4 339.41L473.4 339.23L473.4 338.23L474.4 338.02L476.2 337.94L476.5 337.76L477.7 337.25ZM512.1 337.25L513.3 337.76L513.6 337.94L515.4 338.02L516.4 338.23L516.4 339.23L515.4 339.41L513.6 339.47L513.3 339.61L512.1 339.96L509.9 339.96L508.7 339.61L508.4 339.47L506.6 339.41L505.6 339.23L505.6 338.23L506.6 338.02L508.4 337.94L508.7 337.76L509.9 337.25ZM487.95 332.81L489.15 333.53L489.45 333.78L491.25 333.9L492.25 334.21L492.25 335.69L491.25 335.96L489.45 336.07L489.15 336.28L487.95 336.84L485.75 336.84L484.55 336.28L484.25 336.07L482.45 335.96L481.45 335.69L481.45 334.21L482.45 333.9L484.25 333.78L484.55 333.53L485.75 332.81ZM504.05 332.81L505.25 333.53L505.55 333.78L507.35 333.9L508.35 334.21L508.35 335.69L507.35 335.96L505.55 336.07L505.25 336.28L504.05 336.84L501.85 336.84L500.65 336.28L500.35 336.07L498.55 335.96L497.55 335.69L497.55 334.21L498.55 333.9L500.35 333.78L500.65 333.53L501.85 332.81ZM471.85 332.81L473.05 333.53L473.35 333.78L475.15 333.9L476.15 334.21L476.15 335.69L475.15 335.96L473.35 336.07L473.05 336.28L471.85 336.84L469.65 336.84L468.45 336.28L468.15 336.07L466.35 335.96L465.35 335.69L465.35 334.21L466.35 333.9L468.15 333.78L468.45 333.53L469.65 332.81ZM520.15 332.81L521.35 333.53L521.65 333.78L523.45 333.9L524.45 334.21L524.45 335.69L523.45 335.96L521.65 336.07L521.35 336.28L520.15 336.84L517.95 336.84L516.75 336.28L516.45 336.07L514.65 335.96L513.65 335.69L513.65 334.21L514.65 333.9L516.45 333.78L516.75 333.53L517.95 332.81ZM496 326.93L497.2 327.85L497.5 328.17L499.3 328.33L500.3 328.73L500.3 330.69L499.3 331.05L497.5 331.19L497.2 331.47L496 332.24L493.8 332.24L492.6 331.47L492.3 331.19L490.5 331.05L489.5 330.69L489.5 328.73L490.5 328.33L492.3 328.17L492.6 327.85L493.8 326.93ZM479.9 326.93L481.1 327.85L481.4 328.17L483.2 328.33L484.2 328.73L484.2 330.69L483.2 331.05L481.4 331.19L481.1 331.47L479.9 332.24L477.7 332.24L476.5 331.47L476.2 331.19L474.4 331.05L473.4 330.69L473.4 328.73L474.4 328.33L476.2 328.17L476.5 327.85L477.7 326.93ZM512.1 326.93L513.3 327.85L513.6 328.17L515.4 328.33L516.4 328.73L516.4 330.69L515.4 331.05L513.6 331.19L513.3 331.47L512.1 332.24L509.9 332.24L508.7 331.47L508.4 331.19L506.6 331.05L505.6 330.69L505.6 328.73L506.6 328.33L508.4 328.17L508.7 327.85L509.9 326.93ZM487.95 319.67L489.15 320.78L489.45 321.17L491.25 321.37L492.25 321.85L492.25 324.26L491.25 324.71L489.45 324.89L489.15 325.24L487.95 326.21L485.75 326.21L484.55 325.24L484.25 324.89L482.45 324.71L481.45 324.26L481.45 321.85L482.45 321.37L484.25 321.17L484.55 320.78L485.75 319.67ZM504.05 319.67L505.25 320.78L505.55 321.17L507.35 321.37L508.35 321.85L508.35 324.26L507.35 324.71L505.55 324.89L505.25 325.24L504.05 326.21L501.85 326.21L500.65 325.24L500.35 324.89L498.55 324.71L497.55 324.26L497.55 321.85L498.55 321.37L500.35 321.17L500.65 320.78L501.85 319.67ZM471.85 319.67L473.05 320.78L473.35 321.17L475.15 321.37L476.15 321.85L476.15 324.26L475.15 324.71L473.35 324.89L473.05 325.24L471.85 326.21L469.65 326.21L468.45 325.24L468.15 324.89L466.35 324.71L465.35 324.26L465.35 321.85L466.35 321.37L468.15 321.17L468.45 320.78L469.65 319.67ZM520.15 319.67L521.35 320.78L521.65 321.17L523.45 321.37L524.45 321.85L524.45 324.26L523.45 324.71L521.65 324.89L521.35 325.24L520.15 326.21L517.95 326.21L516.75 325.24L516.45 324.89L514.65 324.71L513.65 324.26L513.65 321.85L514.65 321.37L516.45 321.17L516.75 320.78L517.95 319.67ZM496 311.09L497.2 312.39L497.5 312.84L499.3 313.07L500.3 313.63L500.3 316.48L499.3 317.01L497.5 317.22L497.2 317.64L496 318.8L493.8 318.8L492.6 317.64L492.3 317.22L490.5 317.01L489.5 316.48L489.5 313.63L490.5 313.07L492.3 312.84L492.6 312.39L493.8 311.09ZM479.9 311.09L481.1 312.39L481.4 312.84L483.2 313.07L484.2 313.63L484.2 316.48L483.2 317.01L481.4 317.22L481.1 317.64L479.9 318.8L477.7 318.8L476.5 317.64L476.2 317.22L474.4 317.01L473.4 316.48L473.4 313.63L474.4 313.07L476.2 312.84L476.5 312.39L477.7 311.09ZM512.1 311.09L513.3 312.39L513.6 312.84L515.4 313.07L516.4 313.63L516.4 316.48L515.4 317.01L513.6 317.22L513.3 317.64L512.1 318.8L509.9 318.8L508.7 317.64L508.4 317.22L506.6 317.01L505.6 316.48L505.6 313.63L506.6 313.07L508.4 312.84L508.7 312.39L509.9 311.09ZM487.95 301.28L489.15 302.75L489.45 303.26L491.25 303.52L492.25 304.16L492.25 307.41L491.25 308.02L489.45 308.26L489.15 308.74L487.95 310.09L485.75 310.09L484.55 308.74L484.25 308.26L482.45 308.02L481.45 307.41L481.45 304.16L482.45 303.52L484.25 303.26L484.55 302.75L485.75 301.28ZM504.05 301.28L505.25 302.75L505.55 303.26L507.35 303.52L508.35 304.16L508.35 307.41L507.35 308.02L505.55 308.26L505.25 308.74L504.05 310.09L501.85 310.09L500.65 308.74L500.35 308.26L498.55 308.02L497.55 307.41L497.55 304.16L498.55 303.52L500.35 303.26L500.65 302.75L501.85 301.28ZM471.85 301.28L473.05 302.75L473.35 303.26L475.15 303.52L476.15 304.16L476.15 307.41L475.15 308.02L473.35 308.26L473.05 308.74L471.85 310.09L469.65 310.09L468.45 308.74L468.15 308.26L466.35 308.02L465.35 307.41L465.35 304.16L466.35 303.52L468.15 303.26L468.45 302.75L469.65 301.28ZM520.15 301.28L521.35 302.75L521.65 303.26L523.45 303.52L524.45 304.16L524.45 307.41L523.45 308.02L521.65 308.26L521.35 308.74L520.15 310.09L517.95 310.09L516.75 308.74L516.45 308.26L514.65 308.02L513.65 307.41L513.65 304.16L514.65 303.52L516.45 303.26L516.75 302.75L517.95 301.28ZM496 290.33L497.2 291.95L497.5 292.53L499.3 292.81L500.3 293.52L500.3 297.14L499.3 297.83L497.5 298.1L497.2 298.64L496 300.15L493.8 300.15L492.6 298.64L492.3 298.1L490.5 297.83L489.5 297.14L489.5 293.52L490.5 292.81L492.3 292.53L492.6 291.95L493.8 290.33ZM479.9 290.33L481.1 291.95L481.4 292.53L483.2 292.81L484.2 293.52L484.2 297.14L483.2 297.83L481.4 298.1L481.1 298.64L479.9 300.15L477.7 300.15L476.5 298.64L476.2 298.1L474.4 297.83L473.4 297.14L473.4 293.52L474.4 292.81L476.2 292.53L476.5 291.95L477.7 290.33ZM512.1 290.33L513.3 291.95L513.6 292.53L515.4 292.81L516.4 293.52L516.4 297.14L515.4 297.83L513.6 298.1L513.3 298.64L512.1 300.15L509.9 300.15L508.7 298.64L508.4 298.1L506.6 297.83L505.6 297.14L505.6 293.52L506.6 292.81L508.4 292.53L508.7 291.95L509.9 290.33ZM487.95 278.35L489.15 280.12L489.45 280.74L491.25 281.05L492.25 281.82L492.25 285.78L491.25 286.53L489.45 286.83L489.15 287.42L487.95 289.09L485.75 289.09L484.55 287.42L484.25 286.83L482.45 286.53L481.45 285.78L481.45 281.82L482.45 281.05L484.25 280.74L484.55 280.12L485.75 278.35ZM504.05 278.35L505.25 280.12L505.55 280.74L507.35 281.05L508.35 281.82L508.35 285.78L507.35 286.53L505.55 286.83L505.25 287.42L504.05 289.09L501.85 289.09L500.65 287.42L500.35 286.83L498.55 286.53L497.55 285.78L497.55 281.82L498.55 281.05L500.35 280.74L500.65 280.12L501.85 278.35ZM471.85 278.35L473.05 280.12L473.35 280.74L475.15 281.05L476.15 281.82L476.15 285.78L475.15 286.53L473.35 286.83L473.05 287.42L471.85 289.09L469.65 289.09L468.45 287.42L468.15 286.83L466.35 286.53L465.35 285.78L465.35 281.82L466.35 281.05L468.15 280.74L468.45 280.12L469.65 278.35ZM520.15 278.35L521.35 280.12L521.65 280.74L523.45 281.05L524.45 281.82L524.45 285.78L523.45 286.53L521.65 286.83L521.35 287.42L520.15 289.09L517.95 289.09L516.75 287.42L516.45 286.83L514.65 286.53L513.65 285.78L513.65 281.82L514.65 281.05L516.45 280.74L516.75 280.12L517.95 278.35ZM496 265.46L497.2 267.34L497.5 268.01L499.3 268.34L500.3 269.17L500.3 273.43L499.3 274.24L497.5 274.56L497.2 275.21L496 277L493.8 277L492.6 275.21L492.3 274.56L490.5 274.24L489.5 273.43L489.5 269.17L490.5 268.34L492.3 268.01L492.6 267.34L493.8 265.46ZM479.9 265.46L481.1 267.34L481.4 268.01L483.2 268.34L484.2 269.17L484.2 273.43L483.2 274.24L481.4 274.56L481.1 275.21L479.9 277L477.7 277L476.5 275.21L476.2 274.56L474.4 274.24L473.4 273.43L473.4 269.17L474.4 268.34L476.2 268.01L476.5 267.34L477.7 265.46ZM512.1 265.46L513.3 267.34L513.6 268.01L515.4 268.34L516.4 269.17L516.4 273.43L515.4 274.24L513.6 274.56L513.3 275.21L512.1 277L509.9 277L508.7 275.21L508.4 274.56L506.6 274.24L505.6 273.43L505.6 269.17L506.6 268.34L508.4 268.01L508.7 267.34L509.9 265.46ZM487.95 251.77L489.15 253.76L489.45 254.47L491.25 254.82L492.25 255.7L492.25 260.21L491.25 261.07L489.45 261.42L489.15 262.1L487.95 264.01L485.75 264.01L484.55 262.1L484.25 261.42L482.45 261.07L481.45 260.21L481.45 255.7L482.45 254.82L484.25 254.47L484.55 253.76L485.75 251.77ZM504.05 251.77L505.25 253.76L505.55 254.47L507.35 254.82L508.35 255.7L508.35 260.21L507.35 261.07L505.55 261.42L505.25 262.1L504.05 264.01L501.85 264.01L500.65 262.1L500.35 261.42L498.55 261.07L497.55 260.21L497.55 255.7L498.55 254.82L500.35 254.47L500.65 253.76L501.85 251.77ZM471.85 251.77L473.05 253.76L473.35 254.47L475.15 254.82L476.15 255.7L476.15 260.21L475.15 261.07L473.35 261.42L473.05 262.1L471.85 264.01L469.65 264.01L468.45 262.1L468.15 261.42L466.35 261.07L465.35 260.21L465.35 255.7L466.35 254.82L468.15 254.47L468.45 253.76L469.65 251.77ZM520.15 251.77L521.35 253.76L521.65 254.47L523.45 254.82L524.45 255.7L524.45 260.21L523.45 261.07L521.65 261.42L521.35 262.1L520.15 264.01L517.95 264.01L516.75 262.1L516.45 261.42L514.65 261.07L513.65 260.21L513.65 255.7L514.65 254.82L516.45 254.47L516.75 253.76L517.95 251.77ZM496 237.42L497.2 239.5L497.5 240.23L499.3 240.6L500.3 241.52L500.3 246.25L499.3 247.15L497.5 247.51L497.2 248.23L496 250.25L493.8 250.25L492.6 248.23L492.3 247.51L490.5 247.15L489.5 246.25L489.5 241.52L490.5 240.6L492.3 240.23L492.6 239.5L493.8 237.42ZM479.9 237.42L481.1 239.5L481.4 240.23L483.2 240.6L484.2 241.52L484.2 246.25L483.2 247.15L481.4 247.51L481.1 248.23L479.9 250.25L477.7 250.25L476.5 248.23L476.2 247.51L474.4 247.15L473.4 246.25L473.4 241.52L474.4 240.6L476.2 240.23L476.5 239.5L477.7 237.42ZM512.1 237.42L513.3 239.5L513.6 240.23L515.4 240.6L516.4 241.52L516.4 246.25L515.4 247.15L513.6 247.51L513.3 248.23L512.1 250.25L509.9 250.25L508.7 248.23L508.4 247.51L506.6 247.15L505.6 246.25L505.6 241.52L506.6 240.6L508.4 240.23L508.7 239.5L509.9 237.42ZM487.95 222.55L489.15 224.69L489.45 225.45L491.25 225.83L492.25 226.78L492.25 231.68L491.25 232.62L489.45 233L489.15 233.74L487.95 235.84L485.75 235.84L484.55 233.74L484.25 233L482.45 232.62L481.45 231.68L481.45 226.78L482.45 225.83L484.25 225.45L484.55 224.69L485.75 222.55ZM504.05 222.55L505.25 224.69L505.55 225.45L507.35 225.83L508.35 226.78L508.35 231.68L507.35 232.62L505.55 233L505.25 233.74L504.05 235.84L501.85 235.84L500.65 233.74L500.35 233L498.55 232.62L497.55 231.68L497.55 226.78L498.55 225.83L500.35 225.45L500.65 224.69L501.85 222.55ZM471.85 222.55L473.05 224.69L473.35 225.45L475.15 225.83L476.15 226.78L476.15 231.68L475.15 232.62L473.35 233L473.05 233.74L471.85 235.84L469.65 235.84L468.45 233.74L468.15 233L466.35 232.62L465.35 231.68L465.35 226.78L466.35 225.83L468.15 225.45L468.45 224.69L469.65 222.55ZM520.15 222.55L521.35 224.69L521.65 225.45L523.45 225.83L524.45 226.78L524.45 231.68L523.45 232.62L521.65 233L521.35 233.74L520.15 235.84L517.95 235.84L516.75 233.74L516.45 233L514.65 232.62L513.65 231.68L513.65 226.78L514.65 225.83L516.45 225.45L516.75 224.69L517.95 222.55ZM496 207.3L497.2 209.49L497.5 210.27L499.3 210.66L500.3 211.63L500.3 216.65L499.3 217.61L497.5 218L497.2 218.76L496 220.92L493.8 220.92L492.6 218.76L492.3 218L490.5 217.61L489.5 216.65L489.5 211.63L490.5 210.66L492.3 210.27L492.6 209.49L493.8 207.3ZM479.9 207.3L481.1 209.49L481.4 210.27L483.2 210.66L484.2 211.63L484.2 216.65L483.2 217.61L481.4 218L481.1 218.76L479.9 220.92L477.7 220.92L476.5 218.76L476.2 218L474.4 217.61L473.4 216.65L473.4 211.63L474.4 210.66L476.2 210.27L476.5 209.49L477.7 207.3ZM512.1 207.3L513.3 209.49L513.6 210.27L515.4 210.66L516.4 211.63L516.4 216.65L515.4 217.61L513.6 218L513.3 218.76L512.1 220.92L509.9 220.92L508.7 218.76L508.4 218L506.6 217.61L505.6 216.65L505.6 211.63L506.6 210.66L508.4 210.27L508.7 209.49L509.9 207.3ZM487.95 191.82L489.15 194.03L489.45 194.82L491.25 195.21L492.25 196.19L492.25 201.29L491.25 202.27L489.45 202.66L489.15 203.44L487.95 205.64L485.75 205.64L484.55 203.44L484.25 202.66L482.45 202.27L481.45 201.29L481.45 196.19L482.45 195.21L484.25 194.82L484.55 194.03L485.75 191.82ZM504.05 191.82L505.25 194.03L505.55 194.82L507.35 195.21L508.35 196.19L508.35 201.29L507.35 202.27L505.55 202.66L505.25 203.44L504.05 205.64L501.85 205.64L500.65 203.44L500.35 202.66L498.55 202.27L497.55 201.29L497.55 196.19L498.55 195.21L500.35 194.82L500.65 194.03L501.85 191.82ZM471.85 191.82L473.05 194.03L473.35 194.82L475.15 195.21L476.15 196.19L476.15 201.29L475.15 202.27L473.35 202.66L473.05 203.44L471.85 205.64L469.65 205.64L468.45 203.44L468.15 202.66L466.35 202.27L465.35 201.29L465.35 196.19L466.35 195.21L468.15 194.82L468.45 194.03L469.65 191.82ZM520.15 191.82L521.35 194.03L521.65 194.82L523.45 195.21L524.45 196.19L524.45 201.29L523.45 202.27L521.65 202.66L521.35 203.44L520.15 205.64L517.95 205.64L516.75 203.44L516.45 202.66L514.65 202.27L513.65 201.29L513.65 196.19L514.65 195.21L516.45 194.82L516.75 194.03L517.95 191.82ZM496 176.26L497.2 178.47L497.5 179.26L499.3 179.65L500.3 180.64L500.3 185.76L499.3 186.75L497.5 187.14L497.2 187.93L496 190.14L493.8 190.14L492.6 187.93L492.3 187.14L490.5 186.75L489.5 185.76L489.5 180.64L490.5 179.65L492.3 179.26L492.6 178.47L493.8 176.26ZM479.9 176.26L481.1 178.47L481.4 179.26L483.2 179.65L484.2 180.64L484.2 185.76L483.2 186.75L481.4 187.14L481.1 187.93L479.9 190.14L477.7 190.14L476.5 187.93L476.2 187.14L474.4 186.75L473.4 185.76L473.4 180.64L474.4 179.65L476.2 179.26L476.5 178.47L477.7 176.26ZM512.1 176.26L513.3 178.47L513.6 179.26L515.4 179.65L516.4 180.64L516.4 185.76L515.4 186.75L513.6 187.14L513.3 187.93L512.1 190.14L509.9 190.14L508.7 187.93L508.4 187.14L506.6 186.75L505.6 185.76L505.6 180.64L506.6 179.65L508.4 179.26L508.7 178.47L509.9 176.26ZM487.95 160.76L489.15 162.96L489.45 163.74L491.25 164.13L492.25 165.11L492.25 170.21L491.25 171.19L489.45 171.58L489.15 172.37L487.95 174.58L485.75 174.58L484.55 172.37L484.25 171.58L482.45 171.19L481.45 170.21L481.45 165.11L482.45 164.13L484.25 163.74L484.55 162.96L485.75 160.76ZM504.05 160.76L505.25 162.96L505.55 163.74L507.35 164.13L508.35 165.11L508.35 170.21L507.35 171.19L505.55 171.58L505.25 172.37L504.05 174.58L501.85 174.58L500.65 172.37L500.35 171.58L498.55 171.19L497.55 170.21L497.55 165.11L498.55 164.13L500.35 163.74L500.65 162.96L501.85 160.76ZM471.85 160.76L473.05 162.96L473.35 163.74L475.15 164.13L476.15 165.11L476.15 170.21L475.15 171.19L473.35 171.58L473.05 172.37L471.85 174.58L469.65 174.58L468.45 172.37L468.15 171.58L466.35 171.19L465.35 170.21L465.35 165.11L466.35 164.13L468.15 163.74L468.45 162.96L469.65 160.76ZM520.15 160.76L521.35 162.96L521.65 163.74L523.45 164.13L524.45 165.11L524.45 170.21L523.45 171.19L521.65 171.58L521.35 172.37L520.15 174.58L517.95 174.58L516.75 172.37L516.45 171.58L514.65 171.19L513.65 170.21L513.65 165.11L514.65 164.13L516.45 163.74L516.75 162.96L517.95 160.76ZM496 145.48L497.2 147.64L497.5 148.4L499.3 148.79L500.3 149.75L500.3 154.77L499.3 155.74L497.5 156.13L497.2 156.91L496 159.1L493.8 159.1L492.6 156.91L492.3 156.13L490.5 155.74L489.5 154.77L489.5 149.75L490.5 148.79L492.3 148.4L492.6 147.64L493.8 145.48ZM479.9 145.48L481.1 147.64L481.4 148.4L483.2 148.79L484.2 149.75L484.2 154.77L483.2 155.74L481.4 156.13L481.1 156.91L479.9 159.1L477.7 159.1L476.5 156.91L476.2 156.13L474.4 155.74L473.4 154.77L473.4 149.75L474.4 148.79L476.2 148.4L476.5 147.64L477.7 145.48ZM512.1 145.48L513.3 147.64L513.6 148.4L515.4 148.79L516.4 149.75L516.4 154.77L515.4 155.74L513.6 156.13L513.3 156.91L512.1 159.1L509.9 159.1L508.7 156.91L508.4 156.13L506.6 155.74L505.6 154.77L505.6 149.75L506.6 148.79L508.4 148.4L508.7 147.64L509.9 145.48ZM487.95 130.56L489.15 132.66L489.45 133.4L491.25 133.78L492.25 134.72L492.25 139.62L491.25 140.57L489.45 140.95L489.15 141.71L487.95 143.85L485.75 143.85L484.55 141.71L484.25 140.95L482.45 140.57L481.45 139.62L481.45 134.72L482.45 133.78L484.25 133.4L484.55 132.66L485.75 130.56ZM504.05 130.56L505.25 132.66L505.55 133.4L507.35 133.78L508.35 134.72L508.35 139.62L507.35 140.57L505.55 140.95L505.25 141.71L504.05 143.85L501.85 143.85L500.65 141.71L500.35 140.95L498.55 140.57L497.55 139.62L497.55 134.72L498.55 133.78L500.35 133.4L500.65 132.66L501.85 130.56ZM471.85 130.56L473.05 132.66L473.35 133.4L475.15 133.78L476.15 134.72L476.15 139.62L475.15 140.57L473.35 140.95L473.05 141.71L471.85 143.85L469.65 143.85L468.45 141.71L468.15 140.95L466.35 140.57L465.35 139.62L465.35 134.72L466.35 133.78L468.15 133.4L468.45 132.66L469.65 130.56ZM520.15 130.56L521.35 132.66L521.65 133.4L523.45 133.78L524.45 134.72L524.45 139.62L523.45 140.57L521.65 140.95L521.35 141.71L520.15 143.85L517.95 143.85L516.75 141.71L516.45 140.95L514.65 140.57L513.65 139.62L513.65 134.72L514.65 133.78L516.45 133.4L516.75 132.66L517.95 130.56ZM496 116.15L497.2 118.17L497.5 118.89L499.3 119.25L500.3 120.15L500.3 124.88L499.3 125.8L497.5 126.17L497.2 126.9L496 128.98L493.8 128.98L492.6 126.9L492.3 126.17L490.5 125.8L489.5 124.88L489.5 120.15L490.5 119.25L492.3 118.89L492.6 118.17L493.8 116.15ZM479.9 116.15L481.1 118.17L481.4 118.89L483.2 119.25L484.2 120.15L484.2 124.88L483.2 125.8L481.4 126.17L481.1 126.9L479.9 128.98L477.7 128.98L476.5 126.9L476.2 126.17L474.4 125.8L473.4 124.88L473.4 120.15L474.4 119.25L476.2 118.89L476.5 118.17L477.7 116.15ZM512.1 116.15L513.3 118.17L513.6 118.89L515.4 119.25L516.4 120.15L516.4 124.88L515.4 125.8L513.6 126.17L513.3 126.9L512.1 128.98L509.9 128.98L508.7 126.9L508.4 126.17L506.6 125.8L505.6 124.88L505.6 120.15L506.6 119.25L508.4 118.89L508.7 118.17L509.9 116.15ZM487.95 102.39L489.15 104.3L489.45 104.98L491.25 105.33L492.25 106.19L492.25 110.7L491.25 111.58L489.45 111.93L489.15 112.64L487.95 114.63L485.75 114.63L484.55 112.64L484.25 111.93L482.45 111.58L481.45 110.7L481.45 106.19L482.45 105.33L484.25 104.98L484.55 104.3L485.75 102.39ZM504.05 102.39L505.25 104.3L505.55 104.98L507.35 105.33L508.35 106.19L508.35 110.7L507.35 111.58L505.55 111.93L505.25 112.64L504.05 114.63L501.85 114.63L500.65 112.64L500.35 111.93L498.55 111.58L497.55 110.7L497.55 106.19L498.55 105.33L500.35 104.98L500.65 104.3L501.85 102.39ZM471.85 102.39L473.05 104.3L473.35 104.98L475.15 105.33L476.15 106.19L476.15 110.7L475.15 111.58L473.35 111.93L473.05 112.64L471.85 114.63L469.65 114.63L468.45 112.64L468.15 111.93L466.35 111.58L465.35 110.7L465.35 106.19L466.35 105.33L468.15 104.98L468.45 104.3L469.65 102.39ZM520.15 102.39L521.35 104.3L521.65 104.98L523.45 105.33L524.45 106.19L524.45 110.7L523.45 111.58L521.65 111.93L521.35 112.64L520.15 114.63L517.95 114.63L516.75 112.64L516.45 111.93L514.65 111.58L513.65 110.7L513.65 106.19L514.65 105.33L516.45 104.98L516.75 104.3L517.95 102.39ZM496 89.4L497.2 91.19L497.5 91.84L499.3 92.16L500.3 92.97L500.3 97.23L499.3 98.06L497.5 98.39L497.2 99.06L496 100.94L493.8 100.94L492.6 99.06L492.3 98.39L490.5 98.06L489.5 97.23L489.5 92.97L490.5 92.16L492.3 91.84L492.6 91.19L493.8 89.4ZM479.9 89.4L481.1 91.19L481.4 91.84L483.2 92.16L484.2 92.97L484.2 97.23L483.2 98.06L481.4 98.39L481.1 99.06L479.9 100.94L477.7 100.94L476.5 99.06L476.2 98.39L474.4 98.06L473.4 97.23L473.4 92.97L474.4 92.16L476.2 91.84L476.5 91.19L477.7 89.4ZM512.1 89.4L513.3 91.19L513.6 91.84L515.4 92.16L516.4 92.97L516.4 97.23L515.4 98.06L513.6 98.39L513.3 99.06L512.1 100.94L509.9 100.94L508.7 99.06L508.4 98.39L506.6 98.06L505.6 97.23L505.6 92.97L506.6 92.16L508.4 91.84L508.7 91.19L509.9 89.4ZM487.95 77.31L489.15 78.98L489.45 79.57L491.25 79.87L492.25 80.62L492.25 84.58L491.25 85.35L489.45 85.66L489.15 86.28L487.95 88.05L485.75 88.05L484.55 86.28L484.25 85.66L482.45 85.35L481.45 84.58L481.45 80.62L482.45 79.87L484.25 79.57L484.55 78.98L485.75 77.31ZM504.05 77.31L505.25 78.98L505.55 79.57L507.35 79.87L508.35 80.62L508.35 84.58L507.35 85.35L505.55 85.66L505.25 86.28L504.05 88.05L501.85 88.05L500.65 86.28L500.35 85.66L498.55 85.35L497.55 84.58L497.55 80.62L498.55 79.87L500.35 79.57L500.65 78.98L501.85 77.31ZM471.85 77.31L473.05 78.98L473.35 79.57L475.15 79.87L476.15 80.62L476.15 84.58L475.15 85.35L473.35 85.66L473.05 86.28L471.85 88.05L469.65 88.05L468.45 86.28L468.15 85.66L466.35 85.35L465.35 84.58L465.35 80.62L466.35 79.87L468.15 79.57L468.45 78.98L469.65 77.31ZM520.15 77.31L521.35 78.98L521.65 79.57L523.45 79.87L524.45 80.62L524.45 84.58L523.45 85.35L521.65 85.66L521.35 86.28L520.15 88.05L517.95 88.05L516.75 86.28L516.45 85.66L514.65 85.35L513.65 84.58L513.65 80.62L514.65 79.87L516.45 79.57L516.75 78.98L517.95 77.31ZM496 66.25L497.2 67.76L497.5 68.3L499.3 68.57L500.3 69.26L500.3 72.88L499.3 73.59L497.5 73.87L497.2 74.45L496 76.07L493.8 76.07L492.6 74.45L492.3 73.87L490.5 73.59L489.5 72.88L489.5 69.26L490.5 68.57L492.3 68.3L492.6 67.76L493.8 66.25ZM479.9 66.25L481.1 67.76L481.4 68.3L483.2 68.57L484.2 69.26L484.2 72.88L483.2 73.59L481.4 73.87L481.1 74.45L479.9 76.07L477.7 76.07L476.5 74.45L476.2 73.87L474.4 73.59L473.4 72.88L473.4 69.26L474.4 68.57L476.2 68.3L476.5 67.76L477.7 66.25ZM512.1 66.25L513.3 67.76L513.6 68.3L515.4 68.57L516.4 69.26L516.4 72.88L515.4 73.59L513.6 73.87L513.3 74.45L512.1 76.07L509.9 76.07L508.7 74.45L508.4 73.87L506.6 73.59L505.6 72.88L505.6 69.26L506.6 68.57L508.4 68.3L508.7 67.76L509.9 66.25ZM487.95 56.31L489.15 57.66L489.45 58.14L491.25 58.38L492.25 58.99L492.25 62.24L491.25 62.88L489.45 63.14L489.15 63.65L487.95 65.12L485.75 65.12L484.55 63.65L484.25 63.14L482.45 62.88L481.45 62.24L481.45 58.99L482.45 58.38L484.25 58.14L484.55 57.66L485.75 56.31ZM504.05 56.31L505.25 57.66L505.55 58.14L507.35 58.38L508.35 58.99L508.35 62.24L507.35 62.88L505.55 63.14L505.25 63.65L504.05 65.12L501.85 65.12L500.65 63.65L500.35 63.14L498.55 62.88L497.55 62.24L497.55 58.99L498.55 58.38L500.35 58.14L500.65 57.66L501.85 56.31ZM471.85 56.31L473.05 57.66L473.35 58.14L475.15 58.38L476.15 58.99L476.15 62.24L475.15 62.88L473.35 63.14L473.05 63.65L471.85 65.12L469.65 65.12L468.45 63.65L468.15 63.14L466.35 62.88L465.35 62.24L465.35 58.99L466.35 58.38L468.15 58.14L468.45 57.66L469.65 56.31ZM520.15 56.31L521.35 57.66L521.65 58.14L523.45 58.38L524.45 58.99L524.45 62.24L523.45 62.88L521.65 63.14L521.35 63.65L520.15 65.12L517.95 65.12L516.75 63.65L516.45 63.14L514.65 62.88L513.65 62.24L513.65 58.99L514.65 58.38L516.45 58.14L516.75 57.66L517.95 56.31ZM496 47.6L497.2 48.76L497.5 49.18L499.3 49.39L500.3 49.92L500.3 52.77L499.3 53.33L497.5 53.56L497.2 54.01L496 55.31L493.8 55.31L492.6 54.01L492.3 53.56L490.5 53.33L489.5 52.77L489.5 49.92L490.5 49.39L492.3 49.18L492.6 48.76L493.8 47.6ZM479.9 47.6L481.1 48.76L481.4 49.18L483.2 49.39L484.2 49.92L484.2 52.77L483.2 53.33L481.4 53.56L481.1 54.01L479.9 55.31L477.7 55.31L476.5 54.01L476.2 53.56L474.4 53.33L473.4 52.77L473.4 49.92L474.4 49.39L476.2 49.18L476.5 48.76L477.7 47.6ZM512.1 47.6L513.3 48.76L513.6 49.18L515.4 49.39L516.4 49.92L516.4 52.77L515.4 53.33L513.6 53.56L513.3 54.01L512.1 55.31L509.9 55.31L508.7 54.01L508.4 53.56L506.6 53.33L505.6 52.77L505.6 49.92L506.6 49.39L508.4 49.18L508.7 48.76L509.9 47.6ZM487.95 40.19L489.15 41.16L489.45 41.51L491.25 41.69L492.25 42.14L492.25 44.55L491.25 45.03L489.45 45.23L489.15 45.62L487.95 46.73L485.75 46.73L484.55 45.62L484.25 45.23L482.45 45.03L481.45 44.55L481.45 42.14L482.45 41.69L484.25 41.51L484.55 41.16L485.75 40.19ZM504.05 40.19L505.25 41.16L505.55 41.51L507.35 41.69L508.35 42.14L508.35 44.55L507.35 45.03L505.55 45.23L505.25 45.62L504.05 46.73L501.85 46.73L500.65 45.62L500.35 45.23L498.55 45.03L497.55 44.55L497.55 42.14L498.55 41.69L500.35 41.51L500.65 41.16L501.85 40.19ZM471.85 40.19L473.05 41.16L473.35 41.51L475.15 41.69L476.15 42.14L476.15 44.55L475.15 45.03L473.35 45.23L473.05 45.62L471.85 46.73L469.65 46.73L468.45 45.62L468.15 45.23L466.35 45.03L465.35 44.55L465.35 42.14L466.35 41.69L468.15 41.51L468.45 41.16L469.65 40.19ZM520.15 40.19L521.35 41.16L521.65 41.51L523.45 41.69L524.45 42.14L524.45 44.55L523.45 45.03L521.65 45.23L521.35 45.62L520.15 46.73L517.95 46.73L516.75 45.62L516.45 45.23L514.65 45.03L513.65 44.55L513.65 42.14L514.65 41.69L516.45 41.51L516.75 41.16L517.95 40.19ZM496 34.16L497.2 34.93L497.5 35.21L499.3 35.35L500.3 35.71L500.3 37.67L499.3 38.07L497.5 38.23L497.2 38.55L496 39.47L493.8 39.47L492.6 38.55L492.3 38.23L490.5 38.07L489.5 37.67L489.5 35.71L490.5 35.35L492.3 35.21L492.6 34.93L493.8 34.16ZM479.9 34.16L481.1 34.93L481.4 35.21L483.2 35.35L484.2 35.71L484.2 37.67L483.2 38.07L481.4 38.23L481.1 38.55L479.9 39.47L477.7 39.47L476.5 38.55L476.2 38.23L474.4 38.07L473.4 37.67L473.4 35.71L474.4 35.35L476.2 35.21L476.5 34.93L477.7 34.16ZM512.1 34.16L513.3 34.93L513.6 35.21L515.4 35.35L516.4 35.71L516.4 37.67L515.4 38.07L513.6 38.23L513.3 38.55L512.1 39.47L509.9 39.47L508.7 38.55L508.4 38.23L506.6 38.07L505.6 37.67L505.6 35.71L506.6 35.35L508.4 35.21L508.7 34.93L509.9 34.16ZM487.95 29.56L489.15 30.12L489.45 30.33L491.25 30.44L492.25 30.71L492.25 32.19L491.25 32.5L489.45 32.62L489.15 32.87L487.95 33.59L485.75 33.59L484.55 32.87L484.25 32.62L482.45 32.5L481.45 32.19L481.45 30.71L482.45 30.44L484.25 30.33L484.55 30.12L485.75 29.56ZM504.05 29.56L505.25 30.12L505.55 30.33L507.35 30.44L508.35 30.71L508.35 32.19L507.35 32.5L505.55 32.62L505.25 32.87L504.05 33.59L501.85 33.59L500.65 32.87L500.35 32.62L498.55 32.5L497.55 32.19L497.55 30.71L498.55 30.44L500.35 30.33L500.65 30.12L501.85 29.56ZM471.85 29.56L473.05 30.12L473.35 30.33L475.15 30.44L476.15 30.71L476.15 32.19L475.15 32.5L473.35 32.62L473.05 32.87L471.85 33.59L469.65 33.59L468.45 32.87L468.15 32.62L466.35 32.5L465.35 32.19L465.35 30.71L466.35 30.44L468.15 30.33L468.45 30.12L469.65 29.56ZM520.15 29.56L521.35 30.12L521.65 30.33L523.45 30.44L524.45 30.71L524.45 32.19L523.45 32.5L521.65 32.62L521.35 32.87L520.15 33.59L517.95 33.59L516.75 32.87L516.45 32.62L514.65 32.5L513.65 32.19L513.65 30.71L514.65 30.44L516.45 30.33L516.75 30.12L517.95 29.56ZM496 26.44L497.2 26.79L497.5 26.93L499.3 26.99L500.3 27.17L500.3 28.17L499.3 28.38L497.5 28.46L497.2 28.64L496 29.15L493.8 29.15L492.6 28.64L492.3 28.46L490.5 28.38L489.5 28.17L489.5 27.17L490.5 26.99L492.3 26.93L492.6 26.79L493.8 26.44ZM479.9 26.44L481.1 26.79L481.4 26.93L483.2 26.99L484.2 27.17L484.2 28.17L483.2 28.38L481.4 28.46L481.1 28.64L479.9 29.15L477.7 29.15L476.5 28.64L476.2 28.46L474.4 28.38L473.4 28.17L473.4 27.17L474.4 26.99L476.2 26.93L476.5 26.79L477.7 26.44ZM512.1 26.44L513.3 26.79L513.6 26.93L515.4 26.99L516.4 27.17L516.4 28.17L515.4 28.38L513.6 28.46L513.3 28.64L512.1 29.15L509.9 29.15L508.7 28.64L508.4 28.46L506.6 28.38L505.6 28.17L505.6 27.17L506.6 26.99L508.4 26.93L508.7 26.79L509.9 26.44ZM487.95 24.83L489.15 24.97L489.45 25.03L491.25 25.06L492.25 25.13L492.25 25.64L491.25 25.75L489.45 25.8L489.15 25.9L487.95 26.2L485.75 26.2L484.55 25.9L484.25 25.8L482.45 25.75L481.45 25.64L481.45 25.13L482.45 25.06L484.25 25.03L484.55 24.97L485.75 24.83ZM504.05 24.83L505.25 24.97L505.55 25.03L507.35 25.06L508.35 25.13L508.35 25.64L507.35 25.75L505.55 25.8L505.25 25.9L504.05 26.2L501.85 26.2L500.65 25.9L500.35 25.8L498.55 25.75L497.55 25.64L497.55 25.13L498.55 25.06L500.35 25.03L500.65 24.97L501.85 24.83ZM471.85 24.83L473.05 24.97L473.35 25.03L475.15 25.06L476.15 25.13L476.15 25.64L475.15 25.75L473.35 25.8L473.05 25.9L471.85 26.2L469.65 26.2L468.45 25.9L468.15 25.8L466.35 25.75L465.35 25.64L465.35 25.13L466.35 25.06L468.15 25.03L468.45 24.97L469.65 24.83ZM520.15 24.83L521.35 24.97L521.65 25.03L523.45 25.06L524.45 25.13L524.45 25.64L523.45 25.75L521.65 25.8L521.35 25.9L520.15 26.2L517.95 26.2L516.75 25.9L516.45 25.8L514.65 25.75L513.65 25.64L513.65 25.13L514.65 25.06L516.45 25.03L516.75 24.97L517.95 24.83ZM496 24.6L497.2 24.6L497.5 24.6L499.3 24.6L500.3 24.6L500.3 24.62L499.3 24.64L497.5 24.65L497.2 24.67L496 24.75L493.8 24.75L492.6 24.67L492.3 24.65L490.5 24.64L489.5 24.62L489.5 24.6L490.5 24.6L492.3 24.6L492.6 24.6L493.8 24.6ZM479.9 24.6L481.1 24.6L481.4 24.6L483.2 24.6L484.2 24.6L484.2 24.62L483.2 24.64L481.4 24.65L481.1 24.67L479.9 24.75L477.7 24.75L476.5 24.67L476.2 24.65L474.4 24.64L473.4 24.62L473.4 24.6L474.4 24.6L476.2 24.6L476.5 24.6L477.7 24.6ZM512.1 24.6L513.3 24.6L513.6 24.6L515.4 24.6L516.4 24.6L516.4 24.62L515.4 24.64L513.6 24.65L513.3 24.67L512.1 24.75L509.9 24.75L508.7 24.67L508.4 24.65L506.6 24.64L505.6 24.62L505.6 24.6L506.6 24.6L508.4 24.6L508.7 24.6L509.9 24.6Z" stroke="#000" stroke-width="1.2" fill="#fff" stroke-linejoin="miter"/><path d="M496 344.05L497.2 344.13L497.5 344.15L499.3 344.16L500.3 344.18L500.3 344.2L499.3 344.2L497.5 344.2L497.2 344.2L496 344.2L493.8 344.2L492.6 344.2L492.3 344.2L490.5 344.2L489.5 344.2L489.5 344.18L490.5 344.16L492.3 344.15L492.6 344.13L493.8 344.05ZM479.9 344.05L481.1 344.13L481.4 344.15L483.2 344.16L484.2 344.18L484.2 344.2L483.2 344.2L481.4 344.2L481.1 344.2L479.9 344.2L477.7 344.2L476.5 344.2L476.2 344.2L474.4 344.2L473.4 344.2L473.4 344.18L474.4 344.16L476.2 344.15L476.5 344.13L477.7 344.05ZM512.1 344.05L513.3 344.13L513.6 344.15L515.4 344.16L516.4 344.18L516.4 344.2L515.4 344.2L513.6 344.2L513.3 344.2L512.1 344.2L509.9 344.2L508.7 344.2L508.4 344.2L506.6 344.2L505.6 344.2L505.6 344.18L506.6 344.16L508.4 344.15L508.7 344.13L509.9 344.05ZM487.95 342.58L489.15 342.88L489.45 342.98L491.25 343.03L492.25 343.15L492.25 343.66L491.25 343.74L489.45 343.77L489.15 343.82L487.95 343.96L485.75 343.96L484.55 343.82L484.25 343.77L482.45 343.74L481.45 343.66L481.45 343.15L482.45 343.03L484.25 342.98L484.55 342.88L485.75 342.58ZM504.05 342.58L505.25 342.88L505.55 342.98L507.35 343.03L508.35 343.15L508.35 343.66L507.35 343.74L505.55 343.77L505.25 343.82L504.05 343.96L501.85 343.96L500.65 343.82L500.35 343.77L498.55 343.74L497.55 343.66L497.55 343.15L498.55 343.03L500.35 342.98L500.65 342.88L501.85 342.58ZM471.85 342.58L473.05 342.88L473.35 342.98L475.15 343.03L476.15 343.15L476.15 343.66L475.15 343.74L473.35 343.77L473.05 343.82L471.85 343.96L469.65 343.96L468.45 343.82L468.15 343.77L466.35 343.74L465.35 343.66L465.35 343.15L466.35 343.03L468.15 342.98L468.45 342.88L469.65 342.58ZM520.15 342.58L521.35 342.88L521.65 342.98L523.45 343.03L524.45 343.15L524.45 343.66L523.45 343.74L521.65 343.77L521.35 343.82L520.15 343.96L517.95 343.96L516.75 343.82L516.45 343.77L514.65 343.74L513.65 343.66L513.65 343.15L514.65 343.03L516.45 342.98L516.75 342.88L517.95 342.58ZM496 339.58L497.2 340.1L497.5 340.28L499.3 340.36L500.3 340.58L500.3 341.59L499.3 341.77L497.5 341.84L497.2 341.97L496 342.33L493.8 342.33L492.6 341.97L492.3 341.84L490.5 341.77L489.5 341.59L489.5 340.58L490.5 340.36L492.3 340.28L492.6 340.1L493.8 339.58ZM479.9 339.58L481.1 340.1L481.4 340.28L483.2 340.36L484.2 340.58L484.2 341.59L483.2 341.77L481.4 341.84L481.1 341.97L479.9 342.33L477.7 342.33L476.5 341.97L476.2 341.84L474.4 341.77L473.4 341.59L473.4 340.58L474.4 340.36L476.2 340.28L476.5 340.1L477.7 339.58ZM512.1 339.58L513.3 340.1L513.6 340.28L515.4 340.36L516.4 340.58L516.4 341.59L515.4 341.77L513.6 341.84L513.3 341.97L512.1 342.33L509.9 342.33L508.7 341.97L508.4 341.84L506.6 341.77L505.6 341.59L505.6 340.58L506.6 340.36L508.4 340.28L508.7 340.1L509.9 339.58ZM487.95 335.07L489.15 335.81L489.45 336.06L491.25 336.18L492.25 336.49L492.25 338L491.25 338.27L489.45 338.38L489.15 338.59L487.95 339.17L485.75 339.17L484.55 338.59L484.25 338.38L482.45 338.27L481.45 338L481.45 336.49L482.45 336.18L484.25 336.06L484.55 335.81L485.75 335.07ZM504.05 335.07L505.25 335.81L505.55 336.06L507.35 336.18L508.35 336.49L508.35 338L507.35 338.27L505.55 338.38L505.25 338.59L504.05 339.17L501.85 339.17L500.65 338.59L500.35 338.38L498.55 338.27L497.55 338L497.55 336.49L498.55 336.18L500.35 336.06L500.65 335.81L501.85 335.07ZM471.85 335.07L473.05 335.81L473.35 336.06L475.15 336.18L476.15 336.49L476.15 338L475.15 338.27L473.35 338.38L473.05 338.59L471.85 339.17L469.65 339.17L468.45 338.59L468.15 338.38L466.35 338.27L465.35 338L465.35 336.49L466.35 336.18L468.15 336.06L468.45 335.81L469.65 335.07ZM520.15 335.07L521.35 335.81L521.65 336.06L523.45 336.18L524.45 336.49L524.45 338L523.45 338.27L521.65 338.38L521.35 338.59L520.15 339.17L517.95 339.17L516.75 338.59L516.45 338.38L514.65 338.27L513.65 338L513.65 336.49L514.65 336.18L516.45 336.06L516.75 335.81L517.95 335.07ZM496 329.1L497.2 330.04L497.5 330.37L499.3 330.53L500.3 330.93L500.3 332.92L499.3 333.28L497.5 333.43L497.2 333.72L496 334.5L493.8 334.5L492.6 333.72L492.3 333.43L490.5 333.28L489.5 332.92L489.5 330.93L490.5 330.53L492.3 330.37L492.6 330.04L493.8 329.1ZM479.9 329.1L481.1 330.04L481.4 330.37L483.2 330.53L484.2 330.93L484.2 332.92L483.2 333.28L481.4 333.43L481.1 333.72L479.9 334.5L477.7 334.5L476.5 333.72L476.2 333.43L474.4 333.28L473.4 332.92L473.4 330.93L474.4 330.53L476.2 330.37L476.5 330.04L477.7 329.1ZM512.1 329.1L513.3 330.04L513.6 330.37L515.4 330.53L516.4 330.93L516.4 332.92L515.4 333.28L513.6 333.43L513.3 333.72L512.1 334.5L509.9 334.5L508.7 333.72L508.4 333.43L506.6 333.28L505.6 332.92L505.6 330.93L506.6 330.53L508.4 330.37L508.7 330.04L509.9 329.1ZM487.95 321.73L489.15 322.86L489.45 323.26L491.25 323.46L492.25 323.95L492.25 326.4L491.25 326.85L489.45 327.03L489.15 327.39L487.95 328.38L485.75 328.38L484.55 327.39L484.25 327.03L482.45 326.85L481.45 326.4L481.45 323.95L482.45 323.46L484.25 323.26L484.55 322.86L485.75 321.73ZM504.05 321.73L505.25 322.86L505.55 323.26L507.35 323.46L508.35 323.95L508.35 326.4L507.35 326.85L505.55 327.03L505.25 327.39L504.05 328.38L501.85 328.38L500.65 327.39L500.35 327.03L498.55 326.85L497.55 326.4L497.55 323.95L498.55 323.46L500.35 323.26L500.65 322.86L501.85 321.73ZM471.85 321.73L473.05 322.86L473.35 323.26L475.15 323.46L476.15 323.95L476.15 326.4L475.15 326.85L473.35 327.03L473.05 327.39L471.85 328.38L469.65 328.38L468.45 327.39L468.15 327.03L466.35 326.85L465.35 326.4L465.35 323.95L466.35 323.46L468.15 323.26L468.45 322.86L469.65 321.73ZM520.15 321.73L521.35 322.86L521.65 323.26L523.45 323.46L524.45 323.95L524.45 326.4L523.45 326.85L521.65 327.03L521.35 327.39L520.15 328.38L517.95 328.38L516.75 327.39L516.45 327.03L514.65 326.85L513.65 326.4L513.65 323.95L514.65 323.46L516.45 323.26L516.75 322.86L517.95 321.73ZM496 313.02L497.2 314.34L497.5 314.8L499.3 315.03L500.3 315.6L500.3 318.49L499.3 319.03L497.5 319.25L497.2 319.67L496 320.85L493.8 320.85L492.6 319.67L492.3 319.25L490.5 319.03L489.5 318.49L489.5 315.6L490.5 315.03L492.3 314.8L492.6 314.34L493.8 313.02ZM479.9 313.02L481.1 314.34L481.4 314.8L483.2 315.03L484.2 315.6L484.2 318.49L483.2 319.03L481.4 319.25L481.1 319.67L479.9 320.85L477.7 320.85L476.5 319.67L476.2 319.25L474.4 319.03L473.4 318.49L473.4 315.6L474.4 315.03L476.2 314.8L476.5 314.34L477.7 313.02ZM512.1 313.02L513.3 314.34L513.6 314.8L515.4 315.03L516.4 315.6L516.4 318.49L515.4 319.03L513.6 319.25L513.3 319.67L512.1 320.85L509.9 320.85L508.7 319.67L508.4 319.25L506.6 319.03L505.6 318.49L505.6 315.6L506.6 315.03L508.4 314.8L508.7 314.34L509.9 313.02ZM487.95 303.06L489.15 304.55L489.45 305.08L491.25 305.34L492.25 305.99L492.25 309.29L491.25 309.91L489.45 310.15L489.15 310.64L487.95 312.01L485.75 312.01L484.55 310.64L484.25 310.15L482.45 309.91L481.45 309.29L481.45 305.99L482.45 305.34L484.25 305.08L484.55 304.55L485.75 303.06ZM504.05 303.06L505.25 304.55L505.55 305.08L507.35 305.34L508.35 305.99L508.35 309.29L507.35 309.91L505.55 310.15L505.25 310.64L504.05 312.01L501.85 312.01L500.65 310.64L500.35 310.15L498.55 309.91L497.55 309.29L497.55 305.99L498.55 305.34L500.35 305.08L500.65 304.55L501.85 303.06ZM471.85 303.06L473.05 304.55L473.35 305.08L475.15 305.34L476.15 305.99L476.15 309.29L475.15 309.91L473.35 310.15L473.05 310.64L471.85 312.01L469.65 312.01L468.45 310.64L468.15 310.15L466.35 309.91L465.35 309.29L465.35 305.99L466.35 305.34L468.15 305.08L468.45 304.55L469.65 303.06ZM520.15 303.06L521.35 304.55L521.65 305.08L523.45 305.34L524.45 305.99L524.45 309.29L523.45 309.91L521.65 310.15L521.35 310.64L520.15 312.01L517.95 312.01L516.75 310.64L516.45 310.15L514.65 309.91L513.65 309.29L513.65 305.99L514.65 305.34L516.45 305.08L516.75 304.55L517.95 303.06ZM496 291.95L497.2 293.6L497.5 294.18L499.3 294.47L500.3 295.19L500.3 298.87L499.3 299.56L497.5 299.84L497.2 300.39L496 301.92L493.8 301.92L492.6 300.39L492.3 299.84L490.5 299.56L489.5 298.87L489.5 295.19L490.5 294.47L492.3 294.18L492.6 293.6L493.8 291.95ZM479.9 291.95L481.1 293.6L481.4 294.18L483.2 294.47L484.2 295.19L484.2 298.87L483.2 299.56L481.4 299.84L481.1 300.39L479.9 301.92L477.7 301.92L476.5 300.39L476.2 299.84L474.4 299.56L473.4 298.87L473.4 295.19L474.4 294.47L476.2 294.18L476.5 293.6L477.7 291.95ZM512.1 291.95L513.3 293.6L513.6 294.18L515.4 294.47L516.4 295.19L516.4 298.87L515.4 299.56L513.6 299.84L513.3 300.39L512.1 301.92L509.9 301.92L508.7 300.39L508.4 299.84L506.6 299.56L505.6 298.87L505.6 295.19L506.6 294.47L508.4 294.18L508.7 293.6L509.9 291.95ZM487.95 279.79L489.15 281.58L489.45 282.21L491.25 282.53L492.25 283.31L492.25 287.33L491.25 288.09L489.45 288.4L489.15 289L487.95 290.69L485.75 290.69L484.55 289L484.25 288.4L482.45 288.09L481.45 287.33L481.45 283.31L482.45 282.53L484.25 282.21L484.55 281.58L485.75 279.79ZM504.05 279.79L505.25 281.58L505.55 282.21L507.35 282.53L508.35 283.31L508.35 287.33L507.35 288.09L505.55 288.4L505.25 289L504.05 290.69L501.85 290.69L500.65 289L500.35 288.4L498.55 288.09L497.55 287.33L497.55 283.31L498.55 282.53L500.35 282.21L500.65 281.58L501.85 279.79ZM471.85 279.79L473.05 281.58L473.35 282.21L475.15 282.53L476.15 283.31L476.15 287.33L475.15 288.09L473.35 288.4L473.05 289L471.85 290.69L469.65 290.69L468.45 289L468.15 288.4L466.35 288.09L465.35 287.33L465.35 283.31L466.35 282.53L468.15 282.21L468.45 281.58L469.65 279.79ZM520.15 279.79L521.35 281.58L521.65 282.21L523.45 282.53L524.45 283.31L524.45 287.33L523.45 288.09L521.65 288.4L521.35 289L520.15 290.69L517.95 290.69L516.75 289L516.45 288.4L514.65 288.09L513.65 287.33L513.65 283.31L514.65 282.53L516.45 282.21L516.75 281.58L517.95 279.79ZM496 266.7L497.2 268.62L497.5 269.29L499.3 269.63L500.3 270.47L500.3 274.8L499.3 275.62L497.5 275.94L497.2 276.6L496 278.42L493.8 278.42L492.6 276.6L492.3 275.94L490.5 275.62L489.5 274.8L489.5 270.47L490.5 269.63L492.3 269.29L492.6 268.62L493.8 266.7ZM479.9 266.7L481.1 268.62L481.4 269.29L483.2 269.63L484.2 270.47L484.2 274.8L483.2 275.62L481.4 275.94L481.1 276.6L479.9 278.42L477.7 278.42L476.5 276.6L476.2 275.94L474.4 275.62L473.4 274.8L473.4 270.47L474.4 269.63L476.2 269.29L476.5 268.62L477.7 266.7ZM512.1 266.7L513.3 268.62L513.6 269.29L515.4 269.63L516.4 270.47L516.4 274.8L515.4 275.62L513.6 275.94L513.3 276.6L512.1 278.42L509.9 278.42L508.7 276.6L508.4 275.94L506.6 275.62L505.6 274.8L505.6 270.47L506.6 269.63L508.4 269.29L508.7 268.62L509.9 266.7ZM487.95 252.81L489.15 254.83L489.45 255.54L491.25 255.9L492.25 256.79L492.25 261.38L491.25 262.25L489.45 262.6L489.15 263.29L487.95 265.24L485.75 265.24L484.55 263.29L484.25 262.6L482.45 262.25L481.45 261.38L481.45 256.79L482.45 255.9L484.25 255.54L484.55 254.83L485.75 252.81ZM504.05 252.81L505.25 254.83L505.55 255.54L507.35 255.9L508.35 256.79L508.35 261.38L507.35 262.25L505.55 262.6L505.25 263.29L504.05 265.24L501.85 265.24L500.65 263.29L500.35 262.6L498.55 262.25L497.55 261.38L497.55 256.79L498.55 255.9L500.35 255.54L500.65 254.83L501.85 252.81ZM471.85 252.81L473.05 254.83L473.35 255.54L475.15 255.9L476.15 256.79L476.15 261.38L475.15 262.25L473.35 262.6L473.05 263.29L471.85 265.24L469.65 265.24L468.45 263.29L468.15 262.6L466.35 262.25L465.35 261.38L465.35 256.79L466.35 255.9L468.15 255.54L468.45 254.83L469.65 252.81ZM520.15 252.81L521.35 254.83L521.65 255.54L523.45 255.9L524.45 256.79L524.45 261.38L523.45 262.25L521.65 262.6L521.35 263.29L520.15 265.24L517.95 265.24L516.75 263.29L516.45 262.6L514.65 262.25L513.65 261.38L513.65 256.79L514.65 255.9L516.45 255.54L516.75 254.83L517.95 252.81ZM496 238.24L497.2 240.35L497.5 241.1L499.3 241.47L500.3 242.4L500.3 247.21L499.3 248.12L497.5 248.49L497.2 249.22L496 251.26L493.8 251.26L492.6 249.22L492.3 248.49L490.5 248.12L489.5 247.21L489.5 242.4L490.5 241.47L492.3 241.1L492.6 240.35L493.8 238.24ZM479.9 238.24L481.1 240.35L481.4 241.1L483.2 241.47L484.2 242.4L484.2 247.21L483.2 248.12L481.4 248.49L481.1 249.22L479.9 251.26L477.7 251.26L476.5 249.22L476.2 248.49L474.4 248.12L473.4 247.21L473.4 242.4L474.4 241.47L476.2 241.1L476.5 240.35L477.7 238.24ZM512.1 238.24L513.3 240.35L513.6 241.1L515.4 241.47L516.4 242.4L516.4 247.21L515.4 248.12L513.6 248.49L513.3 249.22L512.1 251.26L509.9 251.26L508.7 249.22L508.4 248.49L506.6 248.12L505.6 247.21L505.6 242.4L506.6 241.47L508.4 241.1L508.7 240.35L509.9 238.24ZM487.95 223.15L489.15 225.32L489.45 226.09L491.25 226.48L492.25 227.44L492.25 232.42L491.25 233.37L489.45 233.75L489.15 234.51L487.95 236.64L485.75 236.64L484.55 234.51L484.25 233.75L482.45 233.37L481.45 232.42L481.45 227.44L482.45 226.48L484.25 226.09L484.55 225.32L485.75 223.15ZM504.05 223.15L505.25 225.32L505.55 226.09L507.35 226.48L508.35 227.44L508.35 232.42L507.35 233.37L505.55 233.75L505.25 234.51L504.05 236.64L501.85 236.64L500.65 234.51L500.35 233.75L498.55 233.37L497.55 232.42L497.55 227.44L498.55 226.48L500.35 226.09L500.65 225.32L501.85 223.15ZM471.85 223.15L473.05 225.32L473.35 226.09L475.15 226.48L476.15 227.44L476.15 232.42L475.15 233.37L473.35 233.75L473.05 234.51L471.85 236.64L469.65 236.64L468.45 234.51L468.15 233.75L466.35 233.37L465.35 232.42L465.35 227.44L466.35 226.48L468.15 226.09L468.45 225.32L469.65 223.15ZM520.15 223.15L521.35 225.32L521.65 226.09L523.45 226.48L524.45 227.44L524.45 232.42L523.45 233.37L521.65 233.75L521.35 234.51L520.15 236.64L517.95 236.64L516.75 234.51L516.45 233.75L514.65 233.37L513.65 232.42L513.65 227.44L514.65 226.48L516.45 226.09L516.75 225.32L517.95 223.15ZM496 207.67L497.2 209.89L497.5 210.68L499.3 211.07L500.3 212.06L500.3 217.16L499.3 218.13L497.5 218.52L497.2 219.3L496 221.49L493.8 221.49L492.6 219.3L492.3 218.52L490.5 218.13L489.5 217.16L489.5 212.06L490.5 211.07L492.3 210.68L492.6 209.89L493.8 207.67ZM479.9 207.67L481.1 209.89L481.4 210.68L483.2 211.07L484.2 212.06L484.2 217.16L483.2 218.13L481.4 218.52L481.1 219.3L479.9 221.49L477.7 221.49L476.5 219.3L476.2 218.52L474.4 218.13L473.4 217.16L473.4 212.06L474.4 211.07L476.2 210.68L476.5 209.89L477.7 207.67ZM512.1 207.67L513.3 209.89L513.6 210.68L515.4 211.07L516.4 212.06L516.4 217.16L515.4 218.13L513.6 218.52L513.3 219.3L512.1 221.49L509.9 221.49L508.7 219.3L508.4 218.52L506.6 218.13L505.6 217.16L505.6 212.06L506.6 211.07L508.4 210.68L508.7 209.89L509.9 207.67ZM487.95 191.95L489.15 194.2L489.45 195L491.25 195.39L492.25 196.39L492.25 201.57L491.25 202.56L489.45 202.96L489.15 203.75L487.95 205.98L485.75 205.98L484.55 203.75L484.25 202.96L482.45 202.56L481.45 201.57L481.45 196.39L482.45 195.39L484.25 195L484.55 194.2L485.75 191.95ZM504.05 191.95L505.25 194.2L505.55 195L507.35 195.39L508.35 196.39L508.35 201.57L507.35 202.56L505.55 202.96L505.25 203.75L504.05 205.98L501.85 205.98L500.65 203.75L500.35 202.96L498.55 202.56L497.55 201.57L497.55 196.39L498.55 195.39L500.35 195L500.65 194.2L501.85 191.95ZM471.85 191.95L473.05 194.2L473.35 195L475.15 195.39L476.15 196.39L476.15 201.57L475.15 202.56L473.35 202.96L473.05 203.75L471.85 205.98L469.65 205.98L468.45 203.75L468.15 202.96L466.35 202.56L465.35 201.57L465.35 196.39L466.35 195.39L468.15 195L468.45 194.2L469.65 191.95ZM520.15 191.95L521.35 194.2L521.65 195L523.45 195.39L524.45 196.39L524.45 201.57L523.45 202.56L521.65 202.96L521.35 203.75L520.15 205.98L517.95 205.98L516.75 203.75L516.45 202.96L514.65 202.56L513.65 201.57L513.65 196.39L514.65 195.39L516.45 195L516.75 194.2L517.95 191.95ZM496 176.15L497.2 178.4L497.5 179.2L499.3 179.6L500.3 180.6L500.3 185.8L499.3 186.8L497.5 187.2L497.2 188L496 190.25L493.8 190.25L492.6 188L492.3 187.2L490.5 186.8L489.5 185.8L489.5 180.6L490.5 179.6L492.3 179.2L492.6 178.4L493.8 176.15ZM479.9 176.15L481.1 178.4L481.4 179.2L483.2 179.6L484.2 180.6L484.2 185.8L483.2 186.8L481.4 187.2L481.1 188L479.9 190.25L477.7 190.25L476.5 188L476.2 187.2L474.4 186.8L473.4 185.8L473.4 180.6L474.4 179.6L476.2 179.2L476.5 178.4L477.7 176.15ZM512.1 176.15L513.3 178.4L513.6 179.2L515.4 179.6L516.4 180.6L516.4 185.8L515.4 186.8L513.6 187.2L513.3 188L512.1 190.25L509.9 190.25L508.7 188L508.4 187.2L506.6 186.8L505.6 185.8L505.6 180.6L506.6 179.6L508.4 179.2L508.7 178.4L509.9 176.15ZM487.95 160.42L489.15 162.65L489.45 163.44L491.25 163.84L492.25 164.83L492.25 170.01L491.25 171.01L489.45 171.4L489.15 172.2L487.95 174.45L485.75 174.45L484.55 172.2L484.25 171.4L482.45 171.01L481.45 170.01L481.45 164.83L482.45 163.84L484.25 163.44L484.55 162.65L485.75 160.42ZM504.05 160.42L505.25 162.65L505.55 163.44L507.35 163.84L508.35 164.83L508.35 170.01L507.35 171.01L505.55 171.4L505.25 172.2L504.05 174.45L501.85 174.45L500.65 172.2L500.35 171.4L498.55 171.01L497.55 170.01L497.55 164.83L498.55 163.84L500.35 163.44L500.65 162.65L501.85 160.42ZM471.85 160.42L473.05 162.65L473.35 163.44L475.15 163.84L476.15 164.83L476.15 170.01L475.15 171.01L473.35 171.4L473.05 172.2L471.85 174.45L469.65 174.45L468.45 172.2L468.15 171.4L466.35 171.01L465.35 170.01L465.35 164.83L466.35 163.84L468.15 163.44L468.45 162.65L469.65 160.42ZM520.15 160.42L521.35 162.65L521.65 163.44L523.45 163.84L524.45 164.83L524.45 170.01L523.45 171.01L521.65 171.4L521.35 172.2L520.15 174.45L517.95 174.45L516.75 172.2L516.45 171.4L514.65 171.01L513.65 170.01L513.65 164.83L514.65 163.84L516.45 163.44L516.75 162.65L517.95 160.42ZM496 144.91L497.2 147.1L497.5 147.88L499.3 148.27L500.3 149.24L500.3 154.34L499.3 155.33L497.5 155.72L497.2 156.51L496 158.73L493.8 158.73L492.6 156.51L492.3 155.72L490.5 155.33L489.5 154.34L489.5 149.24L490.5 148.27L492.3 147.88L492.6 147.1L493.8 144.91ZM479.9 144.91L481.1 147.1L481.4 147.88L483.2 148.27L484.2 149.24L484.2 154.34L483.2 155.33L481.4 155.72L481.1 156.51L479.9 158.73L477.7 158.73L476.5 156.51L476.2 155.72L474.4 155.33L473.4 154.34L473.4 149.24L474.4 148.27L476.2 147.88L476.5 147.1L477.7 144.91ZM512.1 144.91L513.3 147.1L513.6 147.88L515.4 148.27L516.4 149.24L516.4 154.34L515.4 155.33L513.6 155.72L513.3 156.51L512.1 158.73L509.9 158.73L508.7 156.51L508.4 155.72L506.6 155.33L505.6 154.34L505.6 149.24L506.6 148.27L508.4 147.88L508.7 147.1L509.9 144.91ZM487.95 129.76L489.15 131.89L489.45 132.65L491.25 133.03L492.25 133.98L492.25 138.96L491.25 139.92L489.45 140.31L489.15 141.08L487.95 143.25L485.75 143.25L484.55 141.08L484.25 140.31L482.45 139.92L481.45 138.96L481.45 133.98L482.45 133.03L484.25 132.65L484.55 131.89L485.75 129.76ZM504.05 129.76L505.25 131.89L505.55 132.65L507.35 133.03L508.35 133.98L508.35 138.96L507.35 139.92L505.55 140.31L505.25 141.08L504.05 143.25L501.85 143.25L500.65 141.08L500.35 140.31L498.55 139.92L497.55 138.96L497.55 133.98L498.55 133.03L500.35 132.65L500.65 131.89L501.85 129.76ZM471.85 129.76L473.05 131.89L473.35 132.65L475.15 133.03L476.15 133.98L476.15 138.96L475.15 139.92L473.35 140.31L473.05 141.08L471.85 143.25L469.65 143.25L468.45 141.08L468.15 140.31L466.35 139.92L465.35 138.96L465.35 133.98L466.35 133.03L468.15 132.65L468.45 131.89L469.65 129.76ZM520.15 129.76L521.35 131.89L521.65 132.65L523.45 133.03L524.45 133.98L524.45 138.96L523.45 139.92L521.65 140.31L521.35 141.08L520.15 143.25L517.95 143.25L516.75 141.08L516.45 140.31L514.65 139.92L513.65 138.96L513.65 133.98L514.65 133.03L516.45 132.65L516.75 131.89L517.95 129.76ZM496 115.14L497.2 117.18L497.5 117.91L499.3 118.28L500.3 119.19L500.3 124L499.3 124.93L497.5 125.3L497.2 126.05L496 128.16L493.8 128.16L492.6 126.05L492.3 125.3L490.5 124.93L489.5 124L489.5 119.19L490.5 118.28L492.3 117.91L492.6 117.18L493.8 115.14ZM479.9 115.14L481.1 117.18L481.4 117.91L483.2 118.28L484.2 119.19L484.2 124L483.2 124.93L481.4 125.3L481.1 126.05L479.9 128.16L477.7 128.16L476.5 126.05L476.2 125.3L474.4 124.93L473.4 124L473.4 119.19L474.4 118.28L476.2 117.91L476.5 117.18L477.7 115.14ZM512.1 115.14L513.3 117.18L513.6 117.91L515.4 118.28L516.4 119.19L516.4 124L515.4 124.93L513.6 125.3L513.3 126.05L512.1 128.16L509.9 128.16L508.7 126.05L508.4 125.3L506.6 124.93L505.6 124L505.6 119.19L506.6 118.28L508.4 117.91L508.7 117.18L509.9 115.14ZM487.95 101.16L489.15 103.11L489.45 103.8L491.25 104.15L492.25 105.02L492.25 109.61L491.25 110.5L489.45 110.86L489.15 111.57L487.95 113.59L485.75 113.59L484.55 111.57L484.25 110.86L482.45 110.5L481.45 109.61L481.45 105.02L482.45 104.15L484.25 103.8L484.55 103.11L485.75 101.16ZM504.05 101.16L505.25 103.11L505.55 103.8L507.35 104.15L508.35 105.02L508.35 109.61L507.35 110.5L505.55 110.86L505.25 111.57L504.05 113.59L501.85 113.59L500.65 111.57L500.35 110.86L498.55 110.5L497.55 109.61L497.55 105.02L498.55 104.15L500.35 103.8L500.65 103.11L501.85 101.16ZM471.85 101.16L473.05 103.11L473.35 103.8L475.15 104.15L476.15 105.02L476.15 109.61L475.15 110.5L473.35 110.86L473.05 111.57L471.85 113.59L469.65 113.59L468.45 111.57L468.15 110.86L466.35 110.5L465.35 109.61L465.35 105.02L466.35 104.15L468.15 103.8L468.45 103.11L469.65 101.16ZM520.15 101.16L521.35 103.11L521.65 103.8L523.45 104.15L524.45 105.02L524.45 109.61L523.45 110.5L521.65 110.86L521.35 111.57L520.15 113.59L517.95 113.59L516.75 111.57L516.45 110.86L514.65 110.5L513.65 109.61L513.65 105.02L514.65 104.15L516.45 103.8L516.75 103.11L517.95 101.16ZM496 87.98L497.2 89.8L497.5 90.46L499.3 90.78L500.3 91.6L500.3 95.93L499.3 96.77L497.5 97.11L497.2 97.78L496 99.7L493.8 99.7L492.6 97.78L492.3 97.11L490.5 96.77L489.5 95.93L489.5 91.6L490.5 90.78L492.3 90.46L492.6 89.8L493.8 87.98ZM479.9 87.98L481.1 89.8L481.4 90.46L483.2 90.78L484.2 91.6L484.2 95.93L483.2 96.77L481.4 97.11L481.1 97.78L479.9 99.7L477.7 99.7L476.5 97.78L476.2 97.11L474.4 96.77L473.4 95.93L473.4 91.6L474.4 90.78L476.2 90.46L476.5 89.8L477.7 87.98ZM512.1 87.98L513.3 89.8L513.6 90.46L515.4 90.78L516.4 91.6L516.4 95.93L515.4 96.77L513.6 97.11L513.3 97.78L512.1 99.7L509.9 99.7L508.7 97.78L508.4 97.11L506.6 96.77L505.6 95.93L505.6 91.6L506.6 90.78L508.4 90.46L508.7 89.8L509.9 87.98ZM487.95 75.71L489.15 77.4L489.45 78L491.25 78.31L492.25 79.07L492.25 83.09L491.25 83.87L489.45 84.19L489.15 84.82L487.95 86.61L485.75 86.61L484.55 84.82L484.25 84.19L482.45 83.87L481.45 83.09L481.45 79.07L482.45 78.31L484.25 78L484.55 77.4L485.75 75.71ZM504.05 75.71L505.25 77.4L505.55 78L507.35 78.31L508.35 79.07L508.35 83.09L507.35 83.87L505.55 84.19L505.25 84.82L504.05 86.61L501.85 86.61L500.65 84.82L500.35 84.19L498.55 83.87L497.55 83.09L497.55 79.07L498.55 78.31L500.35 78L500.65 77.4L501.85 75.71ZM471.85 75.71L473.05 77.4L473.35 78L475.15 78.31L476.15 79.07L476.15 83.09L475.15 83.87L473.35 84.19L473.05 84.82L471.85 86.61L469.65 86.61L468.45 84.82L468.15 84.19L466.35 83.87L465.35 83.09L465.35 79.07L466.35 78.31L468.15 78L468.45 77.4L469.65 75.71ZM520.15 75.71L521.35 77.4L521.65 78L523.45 78.31L524.45 79.07L524.45 83.09L523.45 83.87L521.65 84.19L521.35 84.82L520.15 86.61L517.95 86.61L516.75 84.82L516.45 84.19L514.65 83.87L513.65 83.09L513.65 79.07L514.65 78.31L516.45 78L516.75 77.4L517.95 75.71ZM496 64.48L497.2 66.01L497.5 66.56L499.3 66.84L500.3 67.53L500.3 71.21L499.3 71.93L497.5 72.22L497.2 72.8L496 74.45L493.8 74.45L492.6 72.8L492.3 72.22L490.5 71.93L489.5 71.21L489.5 67.53L490.5 66.84L492.3 66.56L492.6 66.01L493.8 64.48ZM479.9 64.48L481.1 66.01L481.4 66.56L483.2 66.84L484.2 67.53L484.2 71.21L483.2 71.93L481.4 72.22L481.1 72.8L479.9 74.45L477.7 74.45L476.5 72.8L476.2 72.22L474.4 71.93L473.4 71.21L473.4 67.53L474.4 66.84L476.2 66.56L476.5 66.01L477.7 64.48ZM512.1 64.48L513.3 66.01L513.6 66.56L515.4 66.84L516.4 67.53L516.4 71.21L515.4 71.93L513.6 72.22L513.3 72.8L512.1 74.45L509.9 74.45L508.7 72.8L508.4 72.22L506.6 71.93L505.6 71.21L505.6 67.53L506.6 66.84L508.4 66.56L508.7 66.01L509.9 64.48ZM487.95 54.39L489.15 55.76L489.45 56.25L491.25 56.49L492.25 57.11L492.25 60.41L491.25 61.06L489.45 61.32L489.15 61.85L487.95 63.34L485.75 63.34L484.55 61.85L484.25 61.32L482.45 61.06L481.45 60.41L481.45 57.11L482.45 56.49L484.25 56.25L484.55 55.76L485.75 54.39ZM504.05 54.39L505.25 55.76L505.55 56.25L507.35 56.49L508.35 57.11L508.35 60.41L507.35 61.06L505.55 61.32L505.25 61.85L504.05 63.34L501.85 63.34L500.65 61.85L500.35 61.32L498.55 61.06L497.55 60.41L497.55 57.11L498.55 56.49L500.35 56.25L500.65 55.76L501.85 54.39ZM471.85 54.39L473.05 55.76L473.35 56.25L475.15 56.49L476.15 57.11L476.15 60.41L475.15 61.06L473.35 61.32L473.05 61.85L471.85 63.34L469.65 63.34L468.45 61.85L468.15 61.32L466.35 61.06L465.35 60.41L465.35 57.11L466.35 56.49L468.15 56.25L468.45 55.76L469.65 54.39ZM520.15 54.39L521.35 55.76L521.65 56.25L523.45 56.49L524.45 57.11L524.45 60.41L523.45 61.06L521.65 61.32L521.35 61.85L520.15 63.34L517.95 63.34L516.75 61.85L516.45 61.32L514.65 61.06L513.65 60.41L513.65 57.11L514.65 56.49L516.45 56.25L516.75 55.76L517.95 54.39ZM496 45.55L497.2 46.73L497.5 47.15L499.3 47.37L500.3 47.91L500.3 50.8L499.3 51.37L497.5 51.6L497.2 52.06L496 53.38L493.8 53.38L492.6 52.06L492.3 51.6L490.5 51.37L489.5 50.8L489.5 47.91L490.5 47.37L492.3 47.15L492.6 46.73L493.8 45.55ZM479.9 45.55L481.1 46.73L481.4 47.15L483.2 47.37L484.2 47.91L484.2 50.8L483.2 51.37L481.4 51.6L481.1 52.06L479.9 53.38L477.7 53.38L476.5 52.06L476.2 51.6L474.4 51.37L473.4 50.8L473.4 47.91L474.4 47.37L476.2 47.15L476.5 46.73L477.7 45.55ZM512.1 45.55L513.3 46.73L513.6 47.15L515.4 47.37L516.4 47.91L516.4 50.8L515.4 51.37L513.6 51.6L513.3 52.06L512.1 53.38L509.9 53.38L508.7 52.06L508.4 51.6L506.6 51.37L505.6 50.8L505.6 47.91L506.6 47.37L508.4 47.15L508.7 46.73L509.9 45.55ZM487.95 38.02L489.15 39.01L489.45 39.37L491.25 39.55L492.25 40L492.25 42.45L491.25 42.94L489.45 43.14L489.15 43.54L487.95 44.67L485.75 44.67L484.55 43.54L484.25 43.14L482.45 42.94L481.45 42.45L481.45 40L482.45 39.55L484.25 39.37L484.55 39.01L485.75 38.02ZM504.05 38.02L505.25 39.01L505.55 39.37L507.35 39.55L508.35 40L508.35 42.45L507.35 42.94L505.55 43.14L505.25 43.54L504.05 44.67L501.85 44.67L500.65 43.54L500.35 43.14L498.55 42.94L497.55 42.45L497.55 40L498.55 39.55L500.35 39.37L500.65 39.01L501.85 38.02ZM471.85 38.02L473.05 39.01L473.35 39.37L475.15 39.55L476.15 40L476.15 42.45L475.15 42.94L473.35 43.14L473.05 43.54L471.85 44.67L469.65 44.67L468.45 43.54L468.15 43.14L466.35 42.94L465.35 42.45L465.35 40L466.35 39.55L468.15 39.37L468.45 39.01L469.65 38.02ZM520.15 38.02L521.35 39.01L521.65 39.37L523.45 39.55L524.45 40L524.45 42.45L523.45 42.94L521.65 43.14L521.35 43.54L520.15 44.67L517.95 44.67L516.75 43.54L516.45 43.14L514.65 42.94L513.65 42.45L513.65 40L514.65 39.55L516.45 39.37L516.75 39.01L517.95 38.02ZM496 31.9L497.2 32.68L497.5 32.97L499.3 33.12L500.3 33.48L500.3 35.47L499.3 35.87L497.5 36.03L497.2 36.36L496 37.3L493.8 37.3L492.6 36.36L492.3 36.03L490.5 35.87L489.5 35.47L489.5 33.48L490.5 33.12L492.3 32.97L492.6 32.68L493.8 31.9ZM479.9 31.9L481.1 32.68L481.4 32.97L483.2 33.12L484.2 33.48L484.2 35.47L483.2 35.87L481.4 36.03L481.1 36.36L479.9 37.3L477.7 37.3L476.5 36.36L476.2 36.03L474.4 35.87L473.4 35.47L473.4 33.48L474.4 33.12L476.2 32.97L476.5 32.68L477.7 31.9ZM512.1 31.9L513.3 32.68L513.6 32.97L515.4 33.12L516.4 33.48L516.4 35.47L515.4 35.87L513.6 36.03L513.3 36.36L512.1 37.3L509.9 37.3L508.7 36.36L508.4 36.03L506.6 35.87L505.6 35.47L505.6 33.48L506.6 33.12L508.4 32.97L508.7 32.68L509.9 31.9ZM487.95 27.23L489.15 27.81L489.45 28.02L491.25 28.13L492.25 28.4L492.25 29.91L491.25 30.22L489.45 30.34L489.15 30.59L487.95 31.33L485.75 31.33L484.55 30.59L484.25 30.34L482.45 30.22L481.45 29.91L481.45 28.4L482.45 28.13L484.25 28.02L484.55 27.81L485.75 27.23ZM504.05 27.23L505.25 27.81L505.55 28.02L507.35 28.13L508.35 28.4L508.35 29.91L507.35 30.22L505.55 30.34L505.25 30.59L504.05 31.33L501.85 31.33L500.65 30.59L500.35 30.34L498.55 30.22L497.55 29.91L497.55 28.4L498.55 28.13L500.35 28.02L500.65 27.81L501.85 27.23ZM471.85 27.23L473.05 27.81L473.35 28.02L475.15 28.13L476.15 28.4L476.15 29.91L475.15 30.22L473.35 30.34L473.05 30.59L471.85 31.33L469.65 31.33L468.45 30.59L468.15 30.34L466.35 30.22L465.35 29.91L465.35 28.4L466.35 28.13L468.15 28.02L468.45 27.81L469.65 27.23ZM520.15 27.23L521.35 27.81L521.65 28.02L523.45 28.13L524.45 28.4L524.45 29.91L523.45 30.22L521.65 30.34L521.35 30.59L520.15 31.33L517.95 31.33L516.75 30.59L516.45 30.34L514.65 30.22L513.65 29.91L513.65 28.4L514.65 28.13L516.45 28.02L516.75 27.81L517.95 27.23ZM496 24.07L497.2 24.43L497.5 24.56L499.3 24.63L500.3 24.81L500.3 25.82L499.3 26.04L497.5 26.12L497.2 26.3L496 26.82L493.8 26.82L492.6 26.3L492.3 26.12L490.5 26.04L489.5 25.82L489.5 24.81L490.5 24.63L492.3 24.56L492.6 24.43L493.8 24.07ZM479.9 24.07L481.1 24.43L481.4 24.56L483.2 24.63L484.2 24.81L484.2 25.82L483.2 26.04L481.4 26.12L481.1 26.3L479.9 26.82L477.7 26.82L476.5 26.3L476.2 26.12L474.4 26.04L473.4 25.82L473.4 24.81L474.4 24.63L476.2 24.56L476.5 24.43L477.7 24.07ZM512.1 24.07L513.3 24.43L513.6 24.56L515.4 24.63L516.4 24.81L516.4 25.82L515.4 26.04L513.6 26.12L513.3 26.3L512.1 26.82L509.9 26.82L508.7 26.3L508.4 26.12L506.6 26.04L505.6 25.82L505.6 24.81L506.6 24.63L508.4 24.56L508.7 24.43L509.9 24.07ZM487.95 22.44L489.15 22.58L489.45 22.63L491.25 22.66L492.25 22.74L492.25 23.25L491.25 23.37L489.45 23.42L489.15 23.52L487.95 23.82L485.75 23.82L484.55 23.52L484.25 23.42L482.45 23.37L481.45 23.25L481.45 22.74L482.45 22.66L484.25 22.63L484.55 22.58L485.75 22.44ZM504.05 22.44L505.25 22.58L505.55 22.63L507.35 22.66L508.35 22.74L508.35 23.25L507.35 23.37L505.55 23.42L505.25 23.52L504.05 23.82L501.85 23.82L500.65 23.52L500.35 23.42L498.55 23.37L497.55 23.25L497.55 22.74L498.55 22.66L500.35 22.63L500.65 22.58L501.85 22.44ZM471.85 22.44L473.05 22.58L473.35 22.63L475.15 22.66L476.15 22.74L476.15 23.25L475.15 23.37L473.35 23.42L473.05 23.52L471.85 23.82L469.65 23.82L468.45 23.52L468.15 23.42L466.35 23.37L465.35 23.25L465.35 22.74L466.35 22.66L468.15 22.63L468.45 22.58L469.65 22.44ZM520.15 22.44L521.35 22.58L521.65 22.63L523.45 22.66L524.45 22.74L524.45 23.25L523.45 23.37L521.65 23.42L521.35 23.52L520.15 23.82L517.95 23.82L516.75 23.52L516.45 23.42L514.65 23.37L513.65 23.25L513.65 22.74L514.65 22.66L516.45 22.63L516.75 22.58L517.95 22.44ZM496 22.2L497.2 22.2L497.5 22.2L499.3 22.2L500.3 22.2L500.3 22.22L499.3 22.24L497.5 22.25L497.2 22.27L496 22.35L493.8 22.35L492.6 22.27L492.3 22.25L490.5 22.24L489.5 22.22L489.5 22.2L490.5 22.2L492.3 22.2L492.6 22.2L493.8 22.2ZM479.9 22.2L481.1 22.2L481.4 22.2L483.2 22.2L484.2 22.2L484.2 22.22L483.2 22.24L481.4 22.25L481.1 22.27L479.9 22.35L477.7 22.35L476.5 22.27L476.2 22.25L474.4 22.24L473.4 22.22L473.4 22.2L474.4 22.2L476.2 22.2L476.5 22.2L477.7 22.2ZM512.1 22.2L513.3 22.2L513.6 22.2L515.4 22.2L516.4 22.2L516.4 22.22L515.4 22.24L513.6 22.25L513.3 22.27L512.1 22.35L509.9 22.35L508.7 22.27L508.4 22.25L506.6 22.24L505.6 22.22L505.6 22.2L506.6 22.2L508.4 22.2L508.7 22.2L509.9 22.2Z" stroke="#000" stroke-width="1.4" fill="#fff" stroke-linejoin="miter"/></g><path d="M469.6 24.2V342.2M520.2 24.2V342.2" stroke="#000" stroke-width="1.3" fill="none"/></g>
<path d="M449.35 48.2L464 26Q466 23.6 469 23.4Q494.9 20.2 520.8 23.4Q523.8 23.6 525.8 26L540.4 48.2L540.4 320.2L525.8 340.4Q523.8 342.8 520.8 343Q494.9 346.2 469 343Q466 342.8 464 340.4L449.35 320.2Z" fill="none" stroke="#000" stroke-width="2" stroke-linejoin="round"/>
<line x1="436.5" y1="183.45" x2="446.3" y2="183.45" stroke="#222" stroke-width="0.85"/>
<line x1="543.4" y1="183.45" x2="552.4" y2="183.45" stroke="#222" stroke-width="0.85"/>
<line x1="452.5" y1="183.45" x2="538" y2="183.45" stroke="#222" stroke-width="0.8" stroke-dasharray="12 2.5 3 2.5"/>
<line x1="449.35" y1="320" x2="449.35" y2="411" stroke="#1a1a1a" stroke-width="0.9"/>
<line x1="540.4" y1="320" x2="540.4" y2="411" stroke="#1a1a1a" stroke-width="0.9"/>
<line x1="449.35" y1="400.8" x2="540.4" y2="400.8" stroke="#1a1a1a" stroke-width="0.9"/>
<path d="M449.35 400.8L456.55 402.9L456.55 398.7Z" fill="#000"/>
<path d="M540.4 400.8L533.2 398.7L533.2 402.9Z" fill="#000"/>
<g style="will-change:transform;opacity:0.99"><text x="315" y="13.7">Ø25</text>
<text x="317" y="352.7">Ø400</text>
<text x="482.5" y="395">100</text></g>
</svg>
</body></html>
